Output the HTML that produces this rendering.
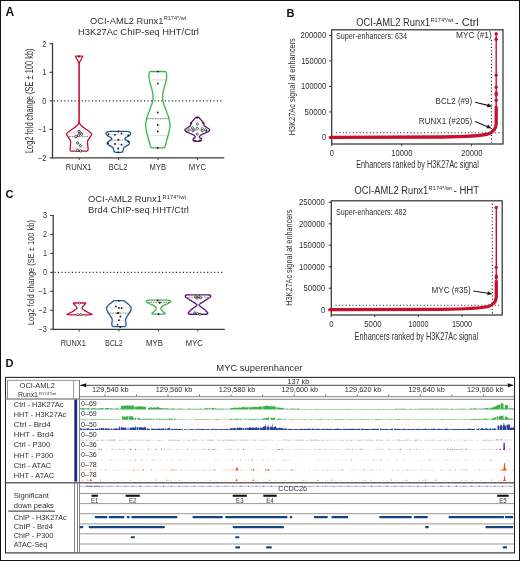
<!DOCTYPE html>
<html><head><meta charset="utf-8"><style>
html,body{margin:0;padding:0;background:#fff;}
svg{display:block;font-family:"Liberation Sans", sans-serif;will-change:transform;}
</style></head><body>
<svg width="520" height="561" viewBox="0 0 520 561">
<rect width="520" height="561" fill="#fff"/>
<rect x="0.50" y="0.50" width="519.00" height="560.00" fill="none" stroke="#111" stroke-width="1" />
<text x="5.50" y="16.30" font-size="12.0" font-weight="bold" fill="#111" >A</text>
<text x="286.60" y="16.90" font-size="11" font-weight="bold" fill="#111" >B</text>
<text x="5.60" y="198.20" font-size="11" font-weight="bold" fill="#111" >C</text>
<text x="5.60" y="367.00" font-size="11" font-weight="bold" fill="#111" >D</text>
<text x="90.10" y="23.50" font-size="9.7" fill="#303030" textLength="73.30" lengthAdjust="spacingAndGlyphs" >OCI-AML2 Runx1</text>
<text x="163.80" y="20.00" font-size="4.6" fill="#303030" textLength="22.40" lengthAdjust="spacingAndGlyphs" >R174*/wt</text>
<text x="78.00" y="34.90" font-size="9.7" fill="#303030" textLength="120.80" lengthAdjust="spacingAndGlyphs" >H3K27Ac ChIP-seq HHT/Ctrl</text>
<line x1="52.50" y1="42.90" x2="52.50" y2="158.50" stroke="#3a3a3a" stroke-width="1.3" />
<line x1="52.50" y1="157.90" x2="224.30" y2="157.90" stroke="#3a3a3a" stroke-width="1.3" />
<line x1="49.50" y1="43.75" x2="52.50" y2="43.75" stroke="#3a3a3a" stroke-width="1.1" />
<text x="46.20" y="46.65" font-size="8.4" text-anchor="end" fill="#303030" textLength="4.00" lengthAdjust="spacingAndGlyphs" >2</text>
<line x1="49.50" y1="72.30" x2="52.50" y2="72.30" stroke="#3a3a3a" stroke-width="1.1" />
<text x="46.20" y="75.20" font-size="8.4" text-anchor="end" fill="#303030" textLength="4.00" lengthAdjust="spacingAndGlyphs" >1</text>
<line x1="49.50" y1="100.85" x2="52.50" y2="100.85" stroke="#3a3a3a" stroke-width="1.1" />
<text x="46.20" y="103.75" font-size="8.4" text-anchor="end" fill="#303030" textLength="4.00" lengthAdjust="spacingAndGlyphs" >0</text>
<line x1="49.50" y1="129.40" x2="52.50" y2="129.40" stroke="#3a3a3a" stroke-width="1.1" />
<text x="46.20" y="132.30" font-size="8.4" text-anchor="end" fill="#303030" textLength="8.30" lengthAdjust="spacingAndGlyphs" >−1</text>
<line x1="49.50" y1="157.95" x2="52.50" y2="157.95" stroke="#3a3a3a" stroke-width="1.1" />
<text x="46.20" y="160.85" font-size="8.4" text-anchor="end" fill="#303030" textLength="8.30" lengthAdjust="spacingAndGlyphs" >−2</text>
<line x1="79.20" y1="157.90" x2="79.20" y2="160.10" stroke="#3a3a3a" stroke-width="1.0" />
<line x1="118.60" y1="157.90" x2="118.60" y2="160.10" stroke="#3a3a3a" stroke-width="1.0" />
<line x1="158.00" y1="157.90" x2="158.00" y2="160.10" stroke="#3a3a3a" stroke-width="1.0" />
<line x1="197.40" y1="157.90" x2="197.40" y2="160.10" stroke="#3a3a3a" stroke-width="1.0" />
<text x="65.80" y="169.90" font-size="8.3" fill="#303030" textLength="25.80" lengthAdjust="spacingAndGlyphs" >RUNX1</text>
<text x="108.80" y="169.90" font-size="8.3" fill="#303030" textLength="18.50" lengthAdjust="spacingAndGlyphs" >BCL2</text>
<text x="149.60" y="169.90" font-size="8.3" fill="#303030" textLength="16.50" lengthAdjust="spacingAndGlyphs" >MYB</text>
<text x="188.80" y="169.90" font-size="8.3" fill="#303030" textLength="17.30" lengthAdjust="spacingAndGlyphs" >MYC</text>
<text transform="translate(32.70,100.80) rotate(-90)" x="0" y="0" font-size="10.2" text-anchor="middle" textLength="104.60" lengthAdjust="spacingAndGlyphs" fill="#303030">Log2 fold change (SE ± 100 kb)</text>
<line x1="53.80" y1="100.90" x2="223.30" y2="100.90" stroke="#222" stroke-width="1.1" stroke-dasharray="1.1 2.37"/>
<path d="M79.10,56.20 L82.70,56.20 C82.52,56.58 82.05,57.62 81.60,58.50 C81.15,59.38 80.38,60.67 80.00,61.50 C79.62,62.33 79.42,62.08 79.30,63.50 C79.17,64.92 79.26,62.25 79.25,70.00 C79.24,77.75 79.24,101.42 79.25,110.00 C79.26,118.58 79.12,119.08 79.30,121.50 C79.47,123.92 79.58,123.50 80.30,124.50 C81.02,125.50 82.22,126.42 83.60,127.50 C84.98,128.58 87.25,129.92 88.60,131.00 C89.95,132.08 91.48,132.95 91.70,134.00 C91.92,135.05 90.57,136.17 89.90,137.30 C89.23,138.43 88.07,139.52 87.70,140.80 C87.33,142.08 87.63,143.67 87.70,145.00 C87.77,146.33 88.08,147.87 88.10,148.80 C88.12,149.73 88.05,150.22 87.80,150.60 C87.55,150.98 86.80,151.02 86.60,151.10 L79.10,151.10 L71.60,151.10 C71.40,151.02 70.65,150.98 70.40,150.60 C70.15,150.22 70.08,149.73 70.10,148.80 C70.12,147.87 70.43,146.33 70.50,145.00 C70.57,143.67 70.87,142.08 70.50,140.80 C70.13,139.52 68.97,138.43 68.30,137.30 C67.63,136.17 66.28,135.05 66.50,134.00 C66.72,132.95 68.25,132.08 69.60,131.00 C70.95,129.92 73.22,128.58 74.60,127.50 C75.98,126.42 77.18,125.50 77.90,124.50 C78.62,123.50 78.72,123.92 78.90,121.50 C79.07,119.08 78.94,118.58 78.95,110.00 C78.96,101.42 78.96,77.75 78.95,70.00 C78.94,62.25 79.02,64.92 78.90,63.50 C78.77,62.08 78.58,62.33 78.20,61.50 C77.82,60.67 77.05,59.38 76.60,58.50 C76.15,57.62 75.68,56.58 75.50,56.20 Z" fill="none" stroke="#c8102e" stroke-width="1.3" stroke-linejoin="round"/>
<line x1="68.10" y1="132.70" x2="90.10" y2="132.70" stroke="#bbb" stroke-width="0.8" stroke-dasharray="1.5 1"/>
<line x1="69.10" y1="136.60" x2="89.10" y2="136.60" stroke="#555" stroke-width="0.8" stroke-dasharray="1.5 1"/>
<line x1="70.80" y1="147.90" x2="87.40" y2="147.90" stroke="#bbb" stroke-width="0.8" stroke-dasharray="1.5 1"/>
<circle cx="79.00" cy="131.40" r="1.15" fill="#fff" stroke="#222" stroke-width="0.8"/>
<circle cx="80.30" cy="133.00" r="1.15" fill="#fff" stroke="#222" stroke-width="0.8"/>
<circle cx="81.60" cy="134.20" r="1.15" fill="#fff" stroke="#222" stroke-width="0.8"/>
<circle cx="78.40" cy="135.30" r="1.15" fill="#fff" stroke="#222" stroke-width="0.8"/>
<circle cx="75.80" cy="136.60" r="1.15" fill="#fff" stroke="#222" stroke-width="0.8"/>
<circle cx="77.60" cy="143.00" r="1.15" fill="#fff" stroke="#222" stroke-width="0.8"/>
<circle cx="80.50" cy="145.60" r="1.15" fill="#fff" stroke="#222" stroke-width="0.8"/>
<circle cx="77.60" cy="150.30" r="1.15" fill="#fff" stroke="#222" stroke-width="0.8"/>
<circle cx="80.50" cy="150.90" r="1.15" fill="#fff" stroke="#222" stroke-width="0.8"/>
<circle cx="79.00" cy="56.40" r="1.0" fill="#222" stroke="none" stroke-width="1"/>
<path d="M118.40,131.30 L126.40,131.30 C126.77,131.35 127.93,131.38 128.60,131.60 C129.27,131.82 130.03,132.22 130.40,132.60 C130.77,132.98 130.97,133.40 130.80,133.90 C130.63,134.40 130.13,135.05 129.40,135.60 C128.67,136.15 127.13,136.70 126.40,137.20 C125.67,137.70 125.00,138.08 125.00,138.60 C125.00,139.12 125.75,139.73 126.40,140.30 C127.05,140.87 128.37,141.48 128.90,142.00 C129.43,142.52 129.72,142.90 129.60,143.40 C129.48,143.90 128.93,144.45 128.20,145.00 C127.47,145.55 125.97,146.18 125.20,146.70 C124.43,147.22 123.97,147.47 123.60,148.10 C123.23,148.73 123.17,149.88 123.00,150.50 C122.83,151.12 122.87,151.50 122.60,151.80 C122.33,152.10 121.60,152.22 121.40,152.30 L118.40,152.30 L115.40,152.30 C115.20,152.22 114.47,152.10 114.20,151.80 C113.93,151.50 113.97,151.12 113.80,150.50 C113.63,149.88 113.57,148.73 113.20,148.10 C112.83,147.47 112.37,147.22 111.60,146.70 C110.83,146.18 109.33,145.55 108.60,145.00 C107.87,144.45 107.32,143.90 107.20,143.40 C107.08,142.90 107.37,142.52 107.90,142.00 C108.43,141.48 109.75,140.87 110.40,140.30 C111.05,139.73 111.80,139.12 111.80,138.60 C111.80,138.08 111.13,137.70 110.40,137.20 C109.67,136.70 108.13,136.15 107.40,135.60 C106.67,135.05 106.17,134.40 106.00,133.90 C105.83,133.40 106.03,132.98 106.40,132.60 C106.77,132.22 107.53,131.82 108.20,131.60 C108.87,131.38 110.03,131.35 110.40,131.30 Z" fill="none" stroke="#1c5a9c" stroke-width="1.3" stroke-linejoin="round"/>
<line x1="107.40" y1="134.50" x2="129.40" y2="134.50" stroke="#bbb" stroke-width="0.8" stroke-dasharray="1.5 1"/>
<line x1="111.40" y1="140.00" x2="125.40" y2="140.00" stroke="#555" stroke-width="0.8" stroke-dasharray="1.5 1"/>
<line x1="108.40" y1="144.30" x2="128.40" y2="144.30" stroke="#bbb" stroke-width="0.8" stroke-dasharray="1.5 1"/>
<circle cx="118.30" cy="131.50" r="0.9" fill="#111" stroke="none" stroke-width="1"/>
<circle cx="121.50" cy="133.30" r="0.9" fill="#111" stroke="none" stroke-width="1"/>
<circle cx="108.50" cy="134.10" r="0.9" fill="#111" stroke="none" stroke-width="1"/>
<circle cx="115.00" cy="134.80" r="0.9" fill="#111" stroke="none" stroke-width="1"/>
<circle cx="128.30" cy="135.50" r="0.9" fill="#111" stroke="none" stroke-width="1"/>
<circle cx="128.50" cy="141.50" r="0.9" fill="#111" stroke="none" stroke-width="1"/>
<circle cx="108.00" cy="143.40" r="0.9" fill="#111" stroke="none" stroke-width="1"/>
<circle cx="115.00" cy="143.90" r="0.9" fill="#111" stroke="none" stroke-width="1"/>
<circle cx="121.50" cy="144.70" r="0.9" fill="#111" stroke="none" stroke-width="1"/>
<circle cx="118.30" cy="148.50" r="0.9" fill="#111" stroke="none" stroke-width="1"/>
<circle cx="118.30" cy="152.30" r="0.9" fill="#111" stroke="none" stroke-width="1"/>
<path d="M118.3,138.4 L119.6,140.4 L117.0,140.4 Z" fill="#111" stroke="none" stroke-width="1" />
<path d="M157.80,71.50 L164.30,71.50 C164.55,71.53 165.45,71.45 165.80,71.70 C166.15,71.95 166.25,72.15 166.40,73.00 C166.55,73.85 166.80,75.30 166.70,76.80 C166.60,78.30 166.23,80.13 165.80,82.00 C165.37,83.87 164.58,86.17 164.10,88.00 C163.62,89.83 163.15,91.30 162.90,93.00 C162.65,94.70 162.52,96.53 162.60,98.20 C162.68,99.87 163.03,101.53 163.40,103.00 C163.77,104.47 164.28,105.58 164.80,107.00 C165.32,108.42 165.83,109.67 166.50,111.50 C167.17,113.33 168.22,115.73 168.80,118.00 C169.38,120.27 169.97,122.77 170.00,125.10 C170.03,127.43 169.53,129.52 169.00,132.00 C168.47,134.48 167.45,137.58 166.80,140.00 C166.15,142.42 165.60,145.20 165.10,146.50 C164.60,147.80 164.02,147.58 163.80,147.80 L157.80,147.80 L151.80,147.80 C151.58,147.58 151.00,147.80 150.50,146.50 C150.00,145.20 149.45,142.42 148.80,140.00 C148.15,137.58 147.13,134.48 146.60,132.00 C146.07,129.52 145.57,127.43 145.60,125.10 C145.63,122.77 146.22,120.27 146.80,118.00 C147.38,115.73 148.43,113.33 149.10,111.50 C149.77,109.67 150.28,108.42 150.80,107.00 C151.32,105.58 151.83,104.47 152.20,103.00 C152.57,101.53 152.92,99.87 153.00,98.20 C153.08,96.53 152.95,94.70 152.70,93.00 C152.45,91.30 151.98,89.83 151.50,88.00 C151.02,86.17 150.23,83.87 149.80,82.00 C149.37,80.13 149.00,78.30 148.90,76.80 C148.80,75.30 149.05,73.85 149.20,73.00 C149.35,72.15 149.45,71.95 149.80,71.70 C150.15,71.45 151.05,71.53 151.30,71.50 Z" fill="none" stroke="#3cb44b" stroke-width="1.3" stroke-linejoin="round"/>
<line x1="149.30" y1="79.80" x2="166.30" y2="79.80" stroke="#bbb" stroke-width="0.8" stroke-dasharray="1.5 1"/>
<line x1="147.30" y1="118.70" x2="168.30" y2="118.70" stroke="#444" stroke-width="0.8" stroke-dasharray="1.5 1"/>
<line x1="147.30" y1="135.40" x2="168.30" y2="135.40" stroke="#bbb" stroke-width="0.8" stroke-dasharray="1.5 1"/>
<circle cx="157.80" cy="71.60" r="0.9" fill="#111" stroke="none" stroke-width="1"/>
<circle cx="157.80" cy="112.50" r="0.9" fill="#111" stroke="none" stroke-width="1"/>
<circle cx="157.80" cy="125.00" r="0.9" fill="#111" stroke="none" stroke-width="1"/>
<circle cx="157.80" cy="131.50" r="0.9" fill="#111" stroke="none" stroke-width="1"/>
<circle cx="157.80" cy="148.00" r="0.9" fill="#111" stroke="none" stroke-width="1"/>
<path d="M157.8,82.3 L159.0,84.2 L156.6,84.2 Z" fill="#111" stroke="none" stroke-width="1" />
<path d="M197.30,117.10 L197.80,117.10 C197.97,117.18 198.50,117.42 198.80,117.60 C199.10,117.78 199.18,117.77 199.60,118.20 C200.02,118.63 200.75,119.57 201.30,120.20 C201.85,120.83 202.48,121.52 202.90,122.00 C203.32,122.48 203.62,122.68 203.80,123.10 C203.98,123.52 203.93,124.05 204.00,124.50 C204.07,124.95 203.73,125.30 204.20,125.80 C204.67,126.30 205.95,126.93 206.80,127.50 C207.65,128.07 208.81,128.80 209.30,129.20 C209.79,129.60 209.80,129.60 209.75,129.90 C209.70,130.20 209.39,130.62 209.00,131.00 C208.61,131.38 208.13,131.82 207.40,132.20 C206.67,132.58 205.47,132.95 204.60,133.30 C203.73,133.65 202.92,133.92 202.20,134.30 C201.48,134.68 200.78,135.17 200.30,135.60 C199.82,136.03 199.33,136.52 199.30,136.90 C199.27,137.28 199.78,137.60 200.10,137.90 C200.42,138.20 200.98,138.35 201.20,138.70 C201.42,139.05 201.47,139.63 201.40,140.00 C201.33,140.37 201.15,140.70 200.80,140.90 C200.45,141.10 199.55,141.15 199.30,141.20 L197.30,141.20 L195.30,141.20 C195.05,141.15 194.15,141.10 193.80,140.90 C193.45,140.70 193.27,140.37 193.20,140.00 C193.13,139.63 193.18,139.05 193.40,138.70 C193.62,138.35 194.18,138.20 194.50,137.90 C194.82,137.60 195.33,137.28 195.30,136.90 C195.27,136.52 194.78,136.03 194.30,135.60 C193.82,135.17 193.12,134.68 192.40,134.30 C191.68,133.92 190.87,133.65 190.00,133.30 C189.13,132.95 187.93,132.58 187.20,132.20 C186.47,131.82 185.99,131.38 185.60,131.00 C185.21,130.62 184.90,130.20 184.85,129.90 C184.80,129.60 184.81,129.60 185.30,129.20 C185.79,128.80 186.95,128.07 187.80,127.50 C188.65,126.93 189.93,126.30 190.40,125.80 C190.87,125.30 190.53,124.95 190.60,124.50 C190.67,124.05 190.62,123.52 190.80,123.10 C190.98,122.68 191.28,122.48 191.70,122.00 C192.12,121.52 192.75,120.83 193.30,120.20 C193.85,119.57 194.58,118.63 195.00,118.20 C195.42,117.77 195.50,117.78 195.80,117.60 C196.10,117.42 196.63,117.18 196.80,117.10 Z" fill="none" stroke="#5e1f7a" stroke-width="1.4" stroke-linejoin="round"/>
<line x1="191.30" y1="125.80" x2="203.30" y2="125.80" stroke="#bbb" stroke-width="0.7" stroke-dasharray="1.2 0.8"/>
<line x1="186.30" y1="130.10" x2="208.30" y2="130.10" stroke="#999" stroke-width="0.7" stroke-dasharray="1.2 0.8"/>
<circle cx="197.30" cy="124.00" r="1.1" fill="#fff" stroke="#333" stroke-width="0.75"/>
<circle cx="197.30" cy="128.40" r="1.1" fill="#fff" stroke="#333" stroke-width="0.75"/>
<circle cx="197.30" cy="134.00" r="1.1" fill="#fff" stroke="#333" stroke-width="0.75"/>
<circle cx="192.40" cy="127.90" r="1.1" fill="#fff" stroke="#333" stroke-width="0.75"/>
<circle cx="192.80" cy="130.60" r="1.1" fill="#fff" stroke="#333" stroke-width="0.75"/>
<circle cx="202.20" cy="128.60" r="1.1" fill="#fff" stroke="#333" stroke-width="0.75"/>
<circle cx="202.20" cy="130.80" r="1.1" fill="#fff" stroke="#333" stroke-width="0.75"/>
<circle cx="194.00" cy="129.80" r="1.1" fill="#fff" stroke="#333" stroke-width="0.75"/>
<circle cx="189.00" cy="129.80" r="1.1" fill="#fff" stroke="#333" stroke-width="0.75"/>
<circle cx="205.50" cy="129.80" r="1.1" fill="#fff" stroke="#333" stroke-width="0.75"/>
<circle cx="197.20" cy="117.70" r="0.95" fill="#222" stroke="none" stroke-width="1"/>
<circle cx="191.30" cy="123.20" r="0.95" fill="#222" stroke="none" stroke-width="1"/>
<circle cx="203.20" cy="123.00" r="0.95" fill="#222" stroke="none" stroke-width="1"/>
<circle cx="186.50" cy="131.60" r="0.95" fill="#222" stroke="none" stroke-width="1"/>
<circle cx="206.30" cy="130.80" r="0.95" fill="#222" stroke="none" stroke-width="1"/>
<circle cx="194.80" cy="140.60" r="0.95" fill="#222" stroke="none" stroke-width="1"/>
<circle cx="199.80" cy="140.60" r="0.95" fill="#222" stroke="none" stroke-width="1"/>
<text x="88.10" y="201.70" font-size="9.7" fill="#303030" textLength="73.80" lengthAdjust="spacingAndGlyphs" >OCI-AML2 Runx1</text>
<text x="162.50" y="198.70" font-size="4.6" fill="#303030" textLength="23.60" lengthAdjust="spacingAndGlyphs" >R174*/wt</text>
<text x="88.10" y="212.95" font-size="9.7" fill="#303030" textLength="100.80" lengthAdjust="spacingAndGlyphs" >Brd4 ChIP-seq HHT/Ctrl</text>
<line x1="53.20" y1="214.90" x2="53.20" y2="329.90" stroke="#3a3a3a" stroke-width="1.3" />
<line x1="53.20" y1="329.30" x2="224.80" y2="329.30" stroke="#3a3a3a" stroke-width="1.3" />
<line x1="50.20" y1="215.50" x2="53.20" y2="215.50" stroke="#3a3a3a" stroke-width="1.1" />
<text x="46.90" y="218.40" font-size="8.4" text-anchor="end" fill="#303030" textLength="4.00" lengthAdjust="spacingAndGlyphs" >3</text>
<line x1="50.20" y1="234.45" x2="53.20" y2="234.45" stroke="#3a3a3a" stroke-width="1.1" />
<text x="46.90" y="237.35" font-size="8.4" text-anchor="end" fill="#303030" textLength="4.00" lengthAdjust="spacingAndGlyphs" >2</text>
<line x1="50.20" y1="253.40" x2="53.20" y2="253.40" stroke="#3a3a3a" stroke-width="1.1" />
<text x="46.90" y="256.30" font-size="8.4" text-anchor="end" fill="#303030" textLength="4.00" lengthAdjust="spacingAndGlyphs" >1</text>
<line x1="50.20" y1="272.35" x2="53.20" y2="272.35" stroke="#3a3a3a" stroke-width="1.1" />
<text x="46.90" y="275.25" font-size="8.4" text-anchor="end" fill="#303030" textLength="4.00" lengthAdjust="spacingAndGlyphs" >0</text>
<line x1="50.20" y1="291.30" x2="53.20" y2="291.30" stroke="#3a3a3a" stroke-width="1.1" />
<text x="46.90" y="294.20" font-size="8.4" text-anchor="end" fill="#303030" textLength="8.30" lengthAdjust="spacingAndGlyphs" >−1</text>
<line x1="50.20" y1="310.25" x2="53.20" y2="310.25" stroke="#3a3a3a" stroke-width="1.1" />
<text x="46.90" y="313.15" font-size="8.4" text-anchor="end" fill="#303030" textLength="8.30" lengthAdjust="spacingAndGlyphs" >−2</text>
<line x1="50.20" y1="329.20" x2="53.20" y2="329.20" stroke="#3a3a3a" stroke-width="1.1" />
<text x="46.90" y="332.10" font-size="8.4" text-anchor="end" fill="#303030" textLength="8.30" lengthAdjust="spacingAndGlyphs" >−3</text>
<line x1="79.20" y1="329.30" x2="79.20" y2="331.50" stroke="#3a3a3a" stroke-width="1.0" />
<line x1="118.90" y1="329.30" x2="118.90" y2="331.50" stroke="#3a3a3a" stroke-width="1.0" />
<line x1="158.40" y1="329.30" x2="158.40" y2="331.50" stroke="#3a3a3a" stroke-width="1.0" />
<line x1="197.80" y1="329.30" x2="197.80" y2="331.50" stroke="#3a3a3a" stroke-width="1.0" />
<text x="60.80" y="345.50" font-size="8.6" fill="#303030" textLength="25.00" lengthAdjust="spacingAndGlyphs" >RUNX1</text>
<text x="105.00" y="345.50" font-size="8.6" fill="#303030" textLength="17.70" lengthAdjust="spacingAndGlyphs" >BCL2</text>
<text x="146.10" y="345.50" font-size="8.6" fill="#303030" textLength="16.90" lengthAdjust="spacingAndGlyphs" >MYB</text>
<text x="185.80" y="345.50" font-size="8.6" fill="#303030" textLength="16.90" lengthAdjust="spacingAndGlyphs" >MYC</text>
<text transform="translate(33.80,272.60) rotate(-90)" x="0" y="0" font-size="9.9" text-anchor="middle" textLength="105.00" lengthAdjust="spacingAndGlyphs" fill="#303030">Log2 fold change (SE ± 100 kb)</text>
<line x1="54.50" y1="272.40" x2="223.80" y2="272.40" stroke="#222" stroke-width="1.1" stroke-dasharray="1.1 2.37"/>
<path d="M79.50,303.00 L85.70,303.00 C85.53,303.25 85.18,303.92 84.70,304.50 C84.22,305.08 83.25,305.90 82.80,306.50 C82.35,307.10 81.80,307.52 82.00,308.10 C82.20,308.68 83.00,309.27 84.00,310.00 C85.00,310.73 86.65,311.73 88.00,312.50 C89.35,313.27 92.52,314.22 92.10,314.60 C91.68,314.98 86.60,314.77 85.50,314.80 L79.50,314.80 L73.50,314.80 C72.40,314.77 67.32,314.98 66.90,314.60 C66.48,314.22 69.65,313.27 71.00,312.50 C72.35,311.73 74.00,310.73 75.00,310.00 C76.00,309.27 76.80,308.68 77.00,308.10 C77.20,307.52 76.65,307.10 76.20,306.50 C75.75,305.90 74.78,305.08 74.30,304.50 C73.82,303.92 73.47,303.25 73.30,303.00 Z" fill="none" stroke="#c8102e" stroke-width="1.3" stroke-linejoin="round"/>
<circle cx="79.30" cy="303.00" r="1.1" fill="#fff" stroke="#333" stroke-width="0.7"/>
<circle cx="77.60" cy="314.50" r="1.1" fill="#fff" stroke="#333" stroke-width="0.7"/>
<circle cx="81.00" cy="314.50" r="1.1" fill="#fff" stroke="#333" stroke-width="0.7"/>
<path d="M118.90,300.60 L122.40,300.60 C122.61,300.62 123.23,300.55 123.65,300.70 C124.07,300.85 124.49,301.20 124.90,301.50 C125.31,301.80 125.52,302.05 126.10,302.50 C126.68,302.95 127.75,303.65 128.40,304.20 C129.05,304.75 129.52,305.15 130.00,305.80 C130.48,306.45 131.22,307.23 131.30,308.10 C131.38,308.97 130.87,310.13 130.50,311.00 C130.13,311.87 129.57,312.53 129.10,313.30 C128.63,314.07 128.15,314.88 127.70,315.60 C127.25,316.32 126.75,316.95 126.40,317.60 C126.05,318.25 125.72,318.85 125.60,319.50 C125.48,320.15 125.63,320.83 125.70,321.50 C125.77,322.17 125.97,322.87 126.00,323.50 C126.03,324.13 126.05,324.83 125.90,325.30 C125.75,325.77 125.60,326.07 125.10,326.30 C124.60,326.53 123.27,326.63 122.90,326.70 L118.90,326.70 L114.90,326.70 C114.53,326.63 113.20,326.53 112.70,326.30 C112.20,326.07 112.05,325.77 111.90,325.30 C111.75,324.83 111.77,324.13 111.80,323.50 C111.83,322.87 112.03,322.17 112.10,321.50 C112.17,320.83 112.32,320.15 112.20,319.50 C112.08,318.85 111.75,318.25 111.40,317.60 C111.05,316.95 110.55,316.32 110.10,315.60 C109.65,314.88 109.17,314.07 108.70,313.30 C108.23,312.53 107.67,311.87 107.30,311.00 C106.93,310.13 106.42,308.97 106.50,308.10 C106.58,307.23 107.32,306.45 107.80,305.80 C108.28,305.15 108.75,304.75 109.40,304.20 C110.05,303.65 111.12,302.95 111.70,302.50 C112.28,302.05 112.49,301.80 112.90,301.50 C113.31,301.20 113.73,300.85 114.15,300.70 C114.57,300.55 115.19,300.62 115.40,300.60 Z" fill="none" stroke="#1c5a9c" stroke-width="1.3" stroke-linejoin="round"/>
<line x1="107.90" y1="307.80" x2="129.90" y2="307.80" stroke="#bbb" stroke-width="0.8" stroke-dasharray="1.5 1"/>
<line x1="107.40" y1="313.10" x2="130.40" y2="313.10" stroke="#555" stroke-width="0.8" stroke-dasharray="1.5 1"/>
<line x1="112.40" y1="320.90" x2="125.40" y2="320.90" stroke="#bbb" stroke-width="0.8" stroke-dasharray="1.5 1"/>
<circle cx="118.90" cy="300.80" r="0.9" fill="#111" stroke="none" stroke-width="1"/>
<circle cx="115.90" cy="306.30" r="0.9" fill="#111" stroke="none" stroke-width="1"/>
<circle cx="118.90" cy="307.90" r="0.9" fill="#111" stroke="none" stroke-width="1"/>
<circle cx="121.60" cy="308.10" r="0.9" fill="#111" stroke="none" stroke-width="1"/>
<circle cx="117.50" cy="313.20" r="0.9" fill="#111" stroke="none" stroke-width="1"/>
<circle cx="118.60" cy="312.80" r="0.9" fill="#111" stroke="none" stroke-width="1"/>
<circle cx="120.30" cy="316.50" r="0.9" fill="#111" stroke="none" stroke-width="1"/>
<circle cx="118.90" cy="320.20" r="0.9" fill="#111" stroke="none" stroke-width="1"/>
<circle cx="120.30" cy="327.00" r="0.9" fill="#111" stroke="none" stroke-width="1"/>
<path d="M117.5,323.6 L118.7,325.5 L116.3,325.5 Z" fill="#111" stroke="none" stroke-width="1" />
<path d="M158.50,300.20 L166.50,300.20 C167.00,300.22 168.82,300.20 169.50,300.30 C170.18,300.40 170.40,300.55 170.60,300.80 C170.80,301.05 170.88,301.47 170.70,301.80 C170.52,302.13 170.15,302.43 169.50,302.80 C168.85,303.17 167.70,303.62 166.80,304.00 C165.90,304.38 164.93,304.68 164.10,305.10 C163.27,305.52 162.35,306.00 161.80,306.50 C161.25,307.00 160.92,307.60 160.80,308.10 C160.68,308.60 160.83,309.02 161.10,309.50 C161.37,309.98 161.93,310.50 162.40,311.00 C162.87,311.50 163.42,312.08 163.90,312.50 C164.38,312.92 165.28,313.25 165.30,313.50 C165.32,313.75 164.63,313.90 164.00,314.00 C163.37,314.10 161.92,314.08 161.50,314.10 L158.50,314.10 L155.50,314.10 C155.08,314.08 153.63,314.10 153.00,314.00 C152.37,313.90 151.68,313.75 151.70,313.50 C151.72,313.25 152.62,312.92 153.10,312.50 C153.58,312.08 154.13,311.50 154.60,311.00 C155.07,310.50 155.63,309.98 155.90,309.50 C156.17,309.02 156.32,308.60 156.20,308.10 C156.08,307.60 155.75,307.00 155.20,306.50 C154.65,306.00 153.73,305.52 152.90,305.10 C152.07,304.68 151.10,304.38 150.20,304.00 C149.30,303.62 148.15,303.17 147.50,302.80 C146.85,302.43 146.48,302.13 146.30,301.80 C146.12,301.47 146.20,301.05 146.40,300.80 C146.60,300.55 146.82,300.40 147.50,300.30 C148.18,300.20 150.00,300.22 150.50,300.20 Z" fill="none" stroke="#3cb44b" stroke-width="1.3" stroke-linejoin="round"/>
<line x1="148.00" y1="302.40" x2="169.00" y2="302.40" stroke="#555" stroke-width="0.8" stroke-dasharray="1.5 1"/>
<circle cx="157.60" cy="300.50" r="0.95" fill="#111" stroke="none" stroke-width="1"/>
<circle cx="158.50" cy="314.20" r="0.95" fill="#111" stroke="none" stroke-width="1"/>
<circle cx="159.80" cy="302.80" r="0.95" fill="#111" stroke="none" stroke-width="1"/>
<path d="M198.00,294.90 L206.00,294.90 C206.58,294.92 208.73,294.88 209.50,295.00 C210.27,295.12 210.42,295.30 210.60,295.60 C210.78,295.90 210.78,296.43 210.60,296.80 C210.42,297.17 210.02,297.43 209.50,297.80 C208.98,298.17 208.18,298.57 207.50,299.00 C206.82,299.43 206.18,299.90 205.40,300.40 C204.62,300.90 203.63,301.48 202.80,302.00 C201.97,302.52 201.03,303.02 200.40,303.50 C199.77,303.98 199.03,304.43 199.00,304.90 C198.97,305.37 199.60,305.78 200.20,306.30 C200.80,306.82 201.87,307.47 202.60,308.00 C203.33,308.53 204.07,309.03 204.60,309.50 C205.13,309.97 205.37,310.33 205.80,310.80 C206.23,311.27 206.87,311.85 207.20,312.30 C207.53,312.75 207.92,313.18 207.80,313.50 C207.68,313.82 207.30,314.07 206.50,314.20 C205.70,314.33 203.58,314.28 203.00,314.30 L198.00,314.30 L193.00,314.30 C192.42,314.28 190.30,314.33 189.50,314.20 C188.70,314.07 188.32,313.82 188.20,313.50 C188.08,313.18 188.47,312.75 188.80,312.30 C189.13,311.85 189.77,311.27 190.20,310.80 C190.63,310.33 190.87,309.97 191.40,309.50 C191.93,309.03 192.67,308.53 193.40,308.00 C194.13,307.47 195.20,306.82 195.80,306.30 C196.40,305.78 197.03,305.37 197.00,304.90 C196.97,304.43 196.23,303.98 195.60,303.50 C194.97,303.02 194.03,302.52 193.20,302.00 C192.37,301.48 191.38,300.90 190.60,300.40 C189.82,299.90 189.18,299.43 188.50,299.00 C187.82,298.57 187.02,298.17 186.50,297.80 C185.98,297.43 185.58,297.17 185.40,296.80 C185.22,296.43 185.22,295.90 185.40,295.60 C185.58,295.30 185.73,295.12 186.50,295.00 C187.27,294.88 189.42,294.92 190.00,294.90 Z" fill="none" stroke="#5e1f7a" stroke-width="1.4" stroke-linejoin="round"/>
<line x1="186.50" y1="297.30" x2="209.50" y2="297.30" stroke="#666" stroke-width="0.8" stroke-dasharray="1.5 1"/>
<circle cx="197.80" cy="295.40" r="1.05" fill="#fff" stroke="#222" stroke-width="0.75"/>
<circle cx="195.30" cy="297.00" r="1.05" fill="#fff" stroke="#222" stroke-width="0.75"/>
<circle cx="199.00" cy="296.60" r="1.05" fill="#fff" stroke="#222" stroke-width="0.75"/>
<circle cx="197.00" cy="298.20" r="1.05" fill="#fff" stroke="#222" stroke-width="0.75"/>
<circle cx="200.50" cy="297.80" r="1.05" fill="#fff" stroke="#222" stroke-width="0.75"/>
<circle cx="194.80" cy="312.80" r="1.05" fill="#fff" stroke="#222" stroke-width="0.75"/>
<circle cx="197.50" cy="313.60" r="1.05" fill="#fff" stroke="#222" stroke-width="0.75"/>
<circle cx="200.00" cy="314.20" r="1.05" fill="#fff" stroke="#222" stroke-width="0.75"/>
<rect x="331.70" y="29.80" width="171.30" height="114.20" fill="none" stroke="#3c3c3c" stroke-width="1.3" />
<line x1="329.10" y1="35.40" x2="331.70" y2="35.40" stroke="#3a3a3a" stroke-width="1.1" />
<text x="326.20" y="38.25" font-size="9.0" text-anchor="end" fill="#303030" textLength="25.70" lengthAdjust="spacingAndGlyphs" >200000</text>
<line x1="329.10" y1="60.90" x2="331.70" y2="60.90" stroke="#3a3a3a" stroke-width="1.1" />
<text x="326.20" y="63.75" font-size="9.0" text-anchor="end" fill="#303030" textLength="25.00" lengthAdjust="spacingAndGlyphs" >150000</text>
<line x1="329.10" y1="86.40" x2="331.70" y2="86.40" stroke="#3a3a3a" stroke-width="1.1" />
<text x="326.20" y="89.25" font-size="9.0" text-anchor="end" fill="#303030" textLength="25.20" lengthAdjust="spacingAndGlyphs" >100000</text>
<line x1="329.10" y1="111.90" x2="331.70" y2="111.90" stroke="#3a3a3a" stroke-width="1.1" />
<text x="326.20" y="114.75" font-size="9.0" text-anchor="end" fill="#303030" textLength="21.60" lengthAdjust="spacingAndGlyphs" >50000</text>
<line x1="329.10" y1="137.40" x2="331.70" y2="137.40" stroke="#3a3a3a" stroke-width="1.1" />
<text x="326.30" y="140.25" font-size="9.0" text-anchor="end" fill="#303030" textLength="4.30" lengthAdjust="spacingAndGlyphs" >0</text>
<line x1="331.80" y1="144.00" x2="331.80" y2="146.20" stroke="#3a3a3a" stroke-width="1.0" />
<text x="329.80" y="155.90" font-size="8.2" fill="#303030" textLength="4.20" lengthAdjust="spacingAndGlyphs" >0</text>
<line x1="401.70" y1="144.00" x2="401.70" y2="146.20" stroke="#3a3a3a" stroke-width="1.0" />
<text x="391.30" y="155.90" font-size="8.2" fill="#303030" textLength="21.20" lengthAdjust="spacingAndGlyphs" >10000</text>
<line x1="471.60" y1="144.00" x2="471.60" y2="146.20" stroke="#3a3a3a" stroke-width="1.0" />
<text x="461.30" y="155.90" font-size="8.2" fill="#303030" textLength="21.20" lengthAdjust="spacingAndGlyphs" >20000</text>
<line x1="335.85" y1="132.80" x2="502.50" y2="132.80" stroke="#222" stroke-width="1.1" stroke-dasharray="1.1 2.29"/>
<line x1="491.50" y1="40.00" x2="491.50" y2="144.00" stroke="#222" stroke-width="1.1" stroke-dasharray="1.1 2.29"/>
<path d="M330.20,137.40 L441.70,137.00 C466.70,136.70 481.70,135.90 487.50,134.20 C493.10,132.40 495.90,129.00 496.20,124.00 L496.20,107.20" fill="none" stroke="#c8102e" stroke-width="3.3" stroke-linecap="round" stroke-linejoin="round"/>
<line x1="496.20" y1="107.20" x2="496.20" y2="33.80" stroke="#c8102e" stroke-width="1.4" />
<circle cx="496.20" cy="33.80" r="1.7" fill="#c8102e" stroke="none" stroke-width="1"/>
<circle cx="496.20" cy="39.30" r="1.7" fill="#c8102e" stroke="none" stroke-width="1"/>
<circle cx="496.20" cy="75.30" r="1.7" fill="#c8102e" stroke="none" stroke-width="1"/>
<circle cx="496.20" cy="87.20" r="1.7" fill="#c8102e" stroke="none" stroke-width="1"/>
<circle cx="496.20" cy="93.20" r="1.7" fill="#c8102e" stroke="none" stroke-width="1"/>
<circle cx="496.20" cy="95.10" r="1.7" fill="#c8102e" stroke="none" stroke-width="1"/>
<circle cx="496.20" cy="100.20" r="1.7" fill="#c8102e" stroke="none" stroke-width="1"/>
<text x="356.30" y="25.50" font-size="10" fill="#303030" textLength="73.70" lengthAdjust="spacingAndGlyphs" >OCI-AML2 Runx1</text>
<text x="430.40" y="21.70" font-size="4.6" fill="#303030" textLength="23.20" lengthAdjust="spacingAndGlyphs" >R174*/wt</text>
<text x="455.00" y="25.50" font-size="10" fill="#303030" textLength="23.80" lengthAdjust="spacingAndGlyphs" >- Ctrl</text>
<text x="336.10" y="39.00" font-size="8.9" fill="#303030" textLength="70.90" lengthAdjust="spacingAndGlyphs" >Super-enhancers: 634</text>
<text x="456.00" y="38.40" font-size="8.6" fill="#303030" textLength="35.80" lengthAdjust="spacingAndGlyphs" >MYC (#1)</text>
<text x="435.60" y="103.90" font-size="9.0" fill="#303030" textLength="36.60" lengthAdjust="spacingAndGlyphs" >BCL2 (#9)</text>
<text x="418.70" y="123.60" font-size="9.0" fill="#303030" textLength="53.50" lengthAdjust="spacingAndGlyphs" >RUNX1 (#205)</text>
<text transform="translate(294.90,86.80) rotate(-90)" x="0" y="0" font-size="9.2" text-anchor="middle" textLength="96.80" lengthAdjust="spacingAndGlyphs" fill="#303030">H3K27Ac signal at enhancers</text>
<text x="356.20" y="168.20" font-size="10.0" fill="#303030" textLength="122.60" lengthAdjust="spacingAndGlyphs" >Enhancers ranked by H3K27Ac signal</text>
<line x1="475.10" y1="102.30" x2="487.92" y2="105.36" stroke="#1a1a1a" stroke-width="1.1" />
<path d="M492.30,106.40 L486.97,107.19 L487.90,103.30 Z" fill="#1a1a1a" stroke="none" stroke-width="1" />
<line x1="475.10" y1="121.40" x2="487.65" y2="126.66" stroke="#1a1a1a" stroke-width="1.1" />
<path d="M491.80,128.40 L486.42,128.31 L487.96,124.62 Z" fill="#1a1a1a" stroke="none" stroke-width="1" />
<rect x="331.30" y="200.80" width="170.90" height="114.20" fill="none" stroke="#3c3c3c" stroke-width="1.3" />
<line x1="328.70" y1="202.30" x2="331.30" y2="202.30" stroke="#3a3a3a" stroke-width="1.1" />
<text x="324.90" y="205.15" font-size="9.0" text-anchor="end" fill="#303030" textLength="26.00" lengthAdjust="spacingAndGlyphs" >250000</text>
<line x1="328.70" y1="223.80" x2="331.30" y2="223.80" stroke="#3a3a3a" stroke-width="1.1" />
<text x="324.90" y="226.65" font-size="9.0" text-anchor="end" fill="#303030" textLength="26.00" lengthAdjust="spacingAndGlyphs" >200000</text>
<line x1="328.70" y1="245.20" x2="331.30" y2="245.20" stroke="#3a3a3a" stroke-width="1.1" />
<text x="324.90" y="248.05" font-size="9.0" text-anchor="end" fill="#303030" textLength="26.00" lengthAdjust="spacingAndGlyphs" >150000</text>
<line x1="328.70" y1="266.70" x2="331.30" y2="266.70" stroke="#3a3a3a" stroke-width="1.1" />
<text x="324.90" y="269.55" font-size="9.0" text-anchor="end" fill="#303030" textLength="26.00" lengthAdjust="spacingAndGlyphs" >100000</text>
<line x1="328.70" y1="288.20" x2="331.30" y2="288.20" stroke="#3a3a3a" stroke-width="1.1" />
<text x="325.10" y="291.05" font-size="9.0" text-anchor="end" fill="#303030" textLength="21.60" lengthAdjust="spacingAndGlyphs" >50000</text>
<line x1="328.70" y1="309.70" x2="331.30" y2="309.70" stroke="#3a3a3a" stroke-width="1.1" />
<text x="325.30" y="312.55" font-size="9.0" text-anchor="end" fill="#303030" textLength="4.30" lengthAdjust="spacingAndGlyphs" >0</text>
<line x1="331.20" y1="315.00" x2="331.20" y2="317.20" stroke="#3a3a3a" stroke-width="1.0" />
<text x="329.20" y="326.70" font-size="8.2" fill="#303030" textLength="4.30" lengthAdjust="spacingAndGlyphs" >0</text>
<line x1="374.80" y1="315.00" x2="374.80" y2="317.20" stroke="#3a3a3a" stroke-width="1.0" />
<text x="364.30" y="326.70" font-size="8.2" fill="#303030" textLength="17.20" lengthAdjust="spacingAndGlyphs" >5000</text>
<line x1="418.40" y1="315.00" x2="418.40" y2="317.20" stroke="#3a3a3a" stroke-width="1.0" />
<text x="408.50" y="326.70" font-size="8.2" fill="#303030" textLength="20.00" lengthAdjust="spacingAndGlyphs" >10000</text>
<line x1="462.00" y1="315.00" x2="462.00" y2="317.20" stroke="#3a3a3a" stroke-width="1.0" />
<text x="452.00" y="326.70" font-size="8.2" fill="#303030" textLength="20.00" lengthAdjust="spacingAndGlyphs" >15000</text>
<line x1="335.45" y1="305.30" x2="501.70" y2="305.30" stroke="#222" stroke-width="1.1" stroke-dasharray="1.1 2.29"/>
<line x1="492.30" y1="203.80" x2="492.30" y2="315.00" stroke="#222" stroke-width="1.1" stroke-dasharray="1.1 2.29"/>
<path d="M329.80,309.70 L441.30,309.30 C466.30,309.00 481.30,308.20 488.30,306.50 C493.20,304.70 496.00,302.00 496.30,297.00 L496.30,281.40" fill="none" stroke="#c8102e" stroke-width="3.3" stroke-linecap="round" stroke-linejoin="round"/>
<line x1="496.30" y1="281.40" x2="496.30" y2="207.50" stroke="#c8102e" stroke-width="1.4" />
<circle cx="496.30" cy="207.50" r="1.7" fill="#c8102e" stroke="none" stroke-width="1"/>
<circle cx="496.30" cy="267.40" r="1.7" fill="#c8102e" stroke="none" stroke-width="1"/>
<circle cx="496.30" cy="276.00" r="1.7" fill="#c8102e" stroke="none" stroke-width="1"/>
<circle cx="496.30" cy="277.60" r="1.7" fill="#c8102e" stroke="none" stroke-width="1"/>
<text x="354.50" y="193.75" font-size="10" fill="#303030" textLength="73.70" lengthAdjust="spacingAndGlyphs" >OCI-AML2 Runx1</text>
<text x="428.60" y="190.00" font-size="4.6" fill="#303030" textLength="23.20" lengthAdjust="spacingAndGlyphs" >R174*/wt</text>
<text x="453.50" y="193.75" font-size="10" fill="#303030" textLength="25.70" lengthAdjust="spacingAndGlyphs" >- HHT</text>
<text x="336.00" y="215.20" font-size="8.9" fill="#303030" textLength="70.50" lengthAdjust="spacingAndGlyphs" >Super-enhancers: 482</text>
<text x="431.50" y="292.70" font-size="9.0" fill="#303030" textLength="39.30" lengthAdjust="spacingAndGlyphs" >MYC (#35)</text>
<text transform="translate(292.40,257.70) rotate(-90)" x="0" y="0" font-size="9.2" text-anchor="middle" textLength="96.30" lengthAdjust="spacingAndGlyphs" fill="#303030">H3K27Ac signal at enhancers</text>
<text x="354.60" y="340.20" font-size="10.2" fill="#303030" textLength="123.50" lengthAdjust="spacingAndGlyphs" >Enhancers ranked by H3K27Ac signal</text>
<line x1="473.20" y1="291.00" x2="488.05" y2="293.23" stroke="#1a1a1a" stroke-width="1.1" />
<path d="M492.50,293.90 L487.26,295.13 L487.85,291.18 Z" fill="#1a1a1a" stroke="none" stroke-width="1" />
<text x="216.30" y="370.50" font-size="8.8" fill="#303030" textLength="86.20" lengthAdjust="spacingAndGlyphs" >MYC superenhancer</text>
<rect x="5.50" y="377.40" width="509.00" height="175.50" fill="none" stroke="#2a2a2a" stroke-width="1.1" />
<rect x="7.50" y="380.30" width="72.00" height="18.70" fill="none" stroke="#888" stroke-width="0.9" />
<line x1="73.60" y1="380.30" x2="73.60" y2="399.00" stroke="#888" stroke-width="0.9" />
<text x="19.60" y="388.20" font-size="8.0" fill="#303030" textLength="35.20" lengthAdjust="spacingAndGlyphs" >OCI-AML2</text>
<text x="17.90" y="396.80" font-size="8.0" fill="#303030" textLength="20.10" lengthAdjust="spacingAndGlyphs" >Runx1</text>
<text x="39.00" y="394.60" font-size="3.9" fill="#303030" textLength="17.20" lengthAdjust="spacingAndGlyphs" >R174*/wt</text>
<line x1="79.50" y1="385.30" x2="513.00" y2="385.30" stroke="#333" stroke-width="0.9" />
<path d="M80.4,385.3 L86.2,383.3 L86.2,387.3 Z" fill="#111" stroke="none" stroke-width="1" />
<path d="M513.6,385.3 L507.8,383.3 L507.8,387.3 Z" fill="#111" stroke="none" stroke-width="1" />
<text x="287.40" y="383.80" font-size="7.0" fill="#303030" textLength="21.90" lengthAdjust="spacingAndGlyphs" >137 kb</text>
<text x="92.00" y="392.30" font-size="6.9" fill="#303030" textLength="36.60" lengthAdjust="spacingAndGlyphs" >129,540 kb</text>
<text x="155.70" y="392.30" font-size="6.9" fill="#303030" textLength="36.60" lengthAdjust="spacingAndGlyphs" >129,560 kb</text>
<text x="218.80" y="392.30" font-size="6.9" fill="#303030" textLength="36.60" lengthAdjust="spacingAndGlyphs" >129,580 kb</text>
<text x="281.50" y="392.30" font-size="6.9" fill="#303030" textLength="36.60" lengthAdjust="spacingAndGlyphs" >129,600 kb</text>
<text x="344.80" y="392.30" font-size="6.9" fill="#303030" textLength="36.60" lengthAdjust="spacingAndGlyphs" >129,620 kb</text>
<text x="408.20" y="392.30" font-size="6.9" fill="#303030" textLength="36.60" lengthAdjust="spacingAndGlyphs" >129,640 kb</text>
<text x="467.00" y="392.30" font-size="6.9" fill="#303030" textLength="36.60" lengthAdjust="spacingAndGlyphs" >129,660 kb</text>
<line x1="104.90" y1="394.40" x2="104.90" y2="396.60" stroke="#555" stroke-width="0.8" />
<line x1="136.44" y1="394.40" x2="136.44" y2="396.60" stroke="#555" stroke-width="0.8" />
<line x1="167.98" y1="394.40" x2="167.98" y2="396.60" stroke="#555" stroke-width="0.8" />
<line x1="199.52" y1="394.40" x2="199.52" y2="396.60" stroke="#555" stroke-width="0.8" />
<line x1="231.06" y1="394.40" x2="231.06" y2="396.60" stroke="#555" stroke-width="0.8" />
<line x1="262.60" y1="394.40" x2="262.60" y2="396.60" stroke="#555" stroke-width="0.8" />
<line x1="294.14" y1="394.40" x2="294.14" y2="396.60" stroke="#555" stroke-width="0.8" />
<line x1="325.68" y1="394.40" x2="325.68" y2="396.60" stroke="#555" stroke-width="0.8" />
<line x1="357.22" y1="394.40" x2="357.22" y2="396.60" stroke="#555" stroke-width="0.8" />
<line x1="388.76" y1="394.40" x2="388.76" y2="396.60" stroke="#555" stroke-width="0.8" />
<line x1="420.30" y1="394.40" x2="420.30" y2="396.60" stroke="#555" stroke-width="0.8" />
<line x1="451.84" y1="394.40" x2="451.84" y2="396.60" stroke="#555" stroke-width="0.8" />
<line x1="483.38" y1="394.40" x2="483.38" y2="396.60" stroke="#555" stroke-width="0.8" />
<line x1="79.50" y1="396.70" x2="514.00" y2="396.70" stroke="#777" stroke-width="0.9" />
<line x1="79.50" y1="399.30" x2="514.00" y2="399.30" stroke="#777" stroke-width="0.9" />
<line x1="79.50" y1="380.30" x2="79.50" y2="553.00" stroke="#777" stroke-width="0.9" />
<line x1="5.50" y1="399.00" x2="79.50" y2="399.00" stroke="#888" stroke-width="0.9" />
<rect x="74.30" y="399.60" width="2.90" height="82.00" fill="#1b2f86" stroke="none" stroke-width="1" />
<text x="13.80" y="407.10" font-size="7.4" fill="#303030" textLength="49.70" lengthAdjust="spacingAndGlyphs" >Ctrl - H3K27Ac</text>
<text x="81.10" y="406.40" font-size="7.2" fill="#303030" textLength="15.70" lengthAdjust="spacingAndGlyphs" >0–69</text>
<text x="13.80" y="417.18" font-size="7.4" fill="#303030" textLength="52.50" lengthAdjust="spacingAndGlyphs" >HHT - H3K27Ac</text>
<text x="81.10" y="416.48" font-size="7.2" fill="#303030" textLength="15.70" lengthAdjust="spacingAndGlyphs" >0–69</text>
<text x="13.80" y="427.26" font-size="7.4" fill="#303030" textLength="37.00" lengthAdjust="spacingAndGlyphs" >Ctrl - Brd4</text>
<text x="81.10" y="426.56" font-size="7.2" fill="#303030" textLength="15.70" lengthAdjust="spacingAndGlyphs" >0–50</text>
<text x="13.80" y="437.34" font-size="7.4" fill="#303030" textLength="39.80" lengthAdjust="spacingAndGlyphs" >HHT - Brd4</text>
<text x="81.10" y="436.64" font-size="7.2" fill="#303030" textLength="15.70" lengthAdjust="spacingAndGlyphs" >0–50</text>
<text x="13.80" y="447.42" font-size="7.4" fill="#303030" textLength="36.50" lengthAdjust="spacingAndGlyphs" >Ctrl - P300</text>
<text x="81.10" y="446.72" font-size="7.2" fill="#303030" textLength="15.70" lengthAdjust="spacingAndGlyphs" >0–36</text>
<text x="13.80" y="457.50" font-size="7.4" fill="#303030" textLength="39.30" lengthAdjust="spacingAndGlyphs" >HHT - P300</text>
<text x="81.10" y="456.80" font-size="7.2" fill="#303030" textLength="15.70" lengthAdjust="spacingAndGlyphs" >0–36</text>
<text x="13.80" y="467.58" font-size="7.4" fill="#303030" textLength="37.50" lengthAdjust="spacingAndGlyphs" >Ctrl - ATAC</text>
<text x="81.10" y="466.88" font-size="7.2" fill="#303030" textLength="15.70" lengthAdjust="spacingAndGlyphs" >0–78</text>
<text x="13.80" y="477.66" font-size="7.4" fill="#303030" textLength="40.30" lengthAdjust="spacingAndGlyphs" >HHT - ATAC</text>
<text x="81.10" y="476.96" font-size="7.2" fill="#303030" textLength="15.70" lengthAdjust="spacingAndGlyphs" >0–78</text>
<path d="M80.0,409.60V408.32H80.5V408.27H81.0V408.39H81.5V408.16H82.0V408.28H82.5V408.00H83.0V407.91H83.5V408.25H84.0V408.11H84.5V408.42H85.0V408.34H85.5V408.44H86.0V408.23H86.5V409.60ZM87.0,409.60V408.21H87.5V408.10H88.0V408.25H88.5V408.32H89.0V408.50H89.5V408.60H90.0V409.60ZM90.5,409.60V408.37H91.0V408.44H91.5V408.39H92.0V408.08H92.5V408.39H93.0V408.05H93.5V408.09H94.0V408.17H94.5V408.19H95.0V408.46H95.5V408.28H96.0V408.54H96.5V408.52H97.0V408.57H97.5V408.59H98.0V408.33H98.5V408.34H99.0V408.54H99.5V408.45H100.0V408.22H100.5V408.05H101.0V408.04H101.5V408.19H102.0V408.04H102.5V408.12H103.0V408.36H103.5V408.60H104.0V408.56H104.5V409.60ZM105.0,409.60V408.18H105.5V408.17H106.0V407.98H106.5V407.98H107.0V408.03H107.5V407.90H108.0V408.06H108.5V408.01H109.0V409.60ZM109.5,409.60V408.14H110.0V408.27H110.5V408.36H111.0V408.48H111.5V408.26H112.0V408.48H112.5V408.49H113.0V408.49H113.5V408.71H114.0V408.40H114.5V409.60ZM115.0,409.60V408.44H115.5V408.45H116.0V408.37H116.5V408.33H117.0V408.52H117.5V408.56H118.0V408.43H118.5V408.55H119.0V408.53H119.5V409.60ZM120.0,409.60V408.61H120.5V408.38H121.0V405.68H121.5V406.11H122.0V405.64H122.5V405.57H123.0V405.67H123.5V405.74H124.0V405.44H124.5V405.65H125.0V405.46H125.5V405.69H126.0V405.46H126.5V405.58H127.0V405.62H127.5V405.44H128.0V405.69H128.5V405.60H129.0V405.52H129.5V405.31H130.0V405.65H130.5V405.38H131.0V405.53H131.5V405.68H132.0V405.52H132.5V405.45H133.0V405.65H133.5V405.34H134.0V406.21H134.5V409.60ZM135.0,409.60V406.73H135.5V406.64H136.0V406.70H136.5V406.74H137.0V406.47H137.5V406.41H138.0V406.45H138.5V406.27H139.0V406.49H139.5V406.26H140.0V406.30H140.5V406.44H141.0V406.33H141.5V406.41H142.0V406.54H142.5V406.42H143.0V406.59H143.5V406.77H144.0V406.83H144.5V406.69H145.0V406.66H145.5V406.64H146.0V409.28H146.5V409.29H147.0V409.21H147.5V409.27H148.0V407.95H148.5V408.00H149.0V407.77H149.5V407.47H150.0V407.29H150.5V407.23H151.0V407.59H151.5V407.34H152.0V407.82H152.5V407.64H153.0V407.51H153.5V407.50H154.0V407.24H154.5V407.34H155.0V407.83H155.5V407.39H156.0V407.72H156.5V407.28H157.0V406.97H157.5V407.09H158.0V407.26H158.5V407.59H159.0V407.44H159.5V408.03H160.0V408.22H160.5V407.88H161.0V408.07H161.5V407.84H162.0V408.59H162.5V408.31H163.0V408.35H163.5V408.28H164.0V408.28H164.5V408.38H165.0V408.38H165.5V408.31H166.0V408.20H166.5V408.29H167.0V408.29H167.5V408.49H168.0V408.47H168.5V408.63H169.0V408.73H169.5V408.75H170.0V408.77H170.5V408.67H171.0V408.39H171.5V408.56H172.0V408.38H172.5V408.53H173.0V408.50H173.5V408.56H174.0V408.52H174.5V408.71H175.0V408.74H175.5V408.72H176.0V408.78H176.5V408.89H177.0V408.69H177.5V408.76H178.0V408.71H178.5V408.74H179.0V408.48H179.5V408.53H180.0V408.62H180.5V408.55H181.0V408.76H181.5V408.74H182.0V408.73H182.5V408.93H183.0V408.87H183.5V408.72H184.0V408.76H184.5V408.87H185.0V408.92H185.5V408.97H186.0V408.77H186.5V408.96H187.0V408.81H187.5V408.82H188.0V408.61H188.5V408.55H189.0V408.54H189.5V408.59H190.0V408.68H190.5V408.80H191.0V408.85H191.5V408.77H192.0V408.78H192.5V408.70H193.0V408.74H193.5V408.82H194.0V408.75H194.5V408.69H195.0V408.93H195.5V408.73H196.0V408.70H196.5V408.77H197.0V408.57H197.5V408.68H198.0V408.81H198.5V408.88H199.0V408.79H199.5V408.77H200.0V408.59H200.5V408.60H201.0V408.71H201.5V408.75H202.0V408.91H202.5V408.74H203.0V408.83H203.5V408.66H204.0V408.47H204.5V408.48H205.0V408.40H205.5V408.19H206.0V408.34H206.5V408.20H207.0V408.23H207.5V408.09H208.0V409.60ZM208.5,409.60V407.88H209.0V407.87H209.5V407.97H210.0V409.60ZM210.5,409.60V408.25H211.0V408.43H211.5V408.25H212.0V408.02H212.5V408.17H213.0V407.87H213.5V408.20H214.0V408.41H214.5V408.17H215.0V408.25H215.5V408.41H216.0V408.71H216.5V408.79H217.0V408.61H217.5V408.62H218.0V408.62H218.5V408.71H219.0V408.73H219.5V408.67H220.0V408.73H220.5V408.71H221.0V408.73H221.5V408.80H222.0V408.65H222.5V408.60H223.0V408.54H223.5V408.70H224.0V408.93H224.5V408.68H225.0V408.76H225.5V408.75H226.0V408.77H226.5V408.61H227.0V409.60ZM227.5,409.60V408.64H228.0V408.71H228.5V408.82H229.0V408.83H229.5V408.81H230.0V408.18H230.5V408.13H231.0V407.94H231.5V408.08H232.0V407.98H232.5V407.93H233.0V407.79H233.5V407.85H234.0V407.96H234.5V407.57H235.0V407.64H235.5V407.42H236.0V407.96H236.5V407.57H237.0V407.74H237.5V407.79H238.0V407.82H238.5V407.53H239.0V407.61H239.5V407.48H240.0V407.80H240.5V407.67H241.0V407.83H241.5V407.26H242.0V407.19H242.5V407.07H243.0V406.95H243.5V406.86H244.0V407.05H244.5V407.32H245.0V407.52H245.5V407.42H246.0V407.44H246.5V407.21H247.0V407.27H247.5V407.29H248.0V409.60ZM248.5,409.60V407.23H249.0V407.12H249.5V407.31H250.0V407.35H250.5V407.17H251.0V407.17H251.5V407.19H252.0V406.95H252.5V407.02H253.0V406.94H253.5V406.97H254.0V406.76H254.5V406.71H255.0V406.82H255.5V406.88H256.0V407.01H256.5V407.07H257.0V406.90H257.5V407.05H258.0V406.82H258.5V406.81H259.0V406.54H259.5V406.67H260.0V406.39H260.5V406.55H261.0V406.61H261.5V406.59H262.0V406.65H262.5V409.60ZM263.0,409.60V406.55H263.5V406.18H264.0V406.16H264.5V406.12H265.0V405.95H265.5V405.75H266.0V405.30H266.5V405.76H267.0V405.67H267.5V405.96H268.0V405.73H268.5V405.81H269.0V405.97H269.5V405.94H270.0V406.18H270.5V406.42H271.0V406.48H271.5V404.76H272.0V406.36H272.5V406.24H273.0V406.24H273.5V406.10H274.0V406.42H274.5V406.34H275.0V406.46H275.5V406.76H276.0V409.60ZM276.5,409.60V407.24H277.0V407.33H277.5V407.50H278.0V407.54H278.5V407.54H279.0V407.81H279.5V407.78H280.0V407.40H280.5V407.71H281.0V407.92H281.5V407.99H282.0V408.12H282.5V407.95H283.0V408.40H283.5V408.37H284.0V408.21H284.5V409.60ZM285.0,409.60V408.41H285.5V408.59H286.0V408.61H286.5V409.60ZM287.0,409.60V408.61H287.5V408.81H288.0V408.88H288.5V408.96H289.0V408.76H289.5V408.87H290.0V408.76H290.5V408.74H291.0V408.73H291.5V408.54H292.0V408.74H292.5V408.55H293.0V408.62H293.5V408.51H294.0V408.54H294.5V408.69H295.0V408.73H295.5V408.82H296.0V408.86H296.5V408.79H297.0V408.70H297.5V408.61H298.0V408.49H298.5V408.60H299.0V408.81H299.5V408.78H300.0V409.14H300.5V409.60ZM301.0,409.60V409.15H301.5V409.02H302.0V409.11H302.5V409.11H303.0V409.07H303.5V408.99H304.0V409.09H304.5V409.06H305.0V409.01H305.5V409.06H306.0V409.18H306.5V409.14H307.0V409.60ZM307.5,409.60V409.06H308.0V409.60ZM308.5,409.60V409.05H309.0V409.09H309.5V409.05H310.0V408.97H310.5V409.04H311.0V408.99H311.5V409.08H312.0V409.14H312.5V409.10H313.0V409.13H313.5V409.60ZM314.0,409.60V408.99H314.5V408.88H315.0V408.89H315.5V408.94H316.0V408.86H316.5V408.82H317.0V408.87H317.5V408.93H318.0V409.01H318.5V408.99H319.0V408.99H319.5V408.97H320.0V409.01H320.5V409.00H321.0V409.00H321.5V409.04H322.0V408.97H322.5V409.01H323.0V409.60ZM323.5,409.60V409.12H324.0V409.12H324.5V409.11H325.0V409.12H325.5V409.16H326.0V409.60ZM326.5,409.60V409.04H327.0V409.08H327.5V409.02H328.0V408.88H328.5V408.94H329.0V408.86H329.5V408.92H330.0V408.95H330.5V408.95H331.0V408.83H331.5V408.86H332.0V409.60ZM332.5,409.60V409.07H333.0V409.12H333.5V409.11H334.0V409.05H334.5V409.01H335.0V409.60ZM335.5,409.60V409.01H336.0V409.01H336.5V408.98H337.0V408.96H337.5V408.87H338.0V408.99H338.5V409.03H339.0V409.00H339.5V408.94H340.0V409.02H340.5V408.91H341.0V408.93H341.5V408.93H342.0V409.09H342.5V409.13H343.0V409.06H343.5V409.10H344.0V409.06H344.5V409.04H345.0V408.91H345.5V409.00H346.0V408.87H346.5V408.96H347.0V408.85H347.5V408.87H348.0V408.88H348.5V408.96H349.0V408.88H349.5V408.93H350.0V408.91H350.5V408.89H351.0V409.00H351.5V408.90H352.0V408.98H352.5V409.60ZM353.0,409.60V408.83H353.5V408.96H354.0V408.94H354.5V408.99H355.0V408.94H355.5V409.60ZM356.0,409.60V409.06H356.5V409.60ZM357.0,409.60V408.91H357.5V408.99H358.0V408.99H358.5V408.90H359.0V408.93H359.5V408.85H360.0V408.92H360.5V408.90H361.0V409.00H361.5V409.01H362.0V409.06H362.5V409.03H363.0V408.98H363.5V408.99H364.0V409.00H364.5V408.97H365.0V408.96H365.5V408.94H366.0V409.00H366.5V409.05H367.0V409.01H367.5V409.03H368.0V408.88H368.5V408.93H369.0V409.02H369.5V409.04H370.0V409.01H370.5V408.98H371.0V408.91H371.5V408.89H372.0V408.92H372.5V409.03H373.0V409.60ZM373.5,409.60V409.09H374.0V409.10H374.5V409.13H375.0V409.14H375.5V408.93H376.0V409.60ZM376.5,409.60V408.88H377.0V408.87H377.5V408.83H378.0V408.84H378.5V408.96H379.0V408.92H379.5V408.95H380.0V409.00H380.5V408.98H381.0V408.98H381.5V408.93H382.0V408.98H382.5V409.06H383.0V409.03H383.5V409.00H384.0V408.99H384.5V408.95H385.0V409.02H385.5V409.04H386.0V409.00H386.5V409.60ZM387.0,409.60V409.03H387.5V408.99H388.0V409.01H388.5V408.96H389.0V409.00H389.5V409.01H390.0V409.10H390.5V409.06H391.0V409.08H391.5V408.91H392.0V408.99H392.5V408.91H393.0V409.03H393.5V409.08H394.0V409.06H394.5V408.98H395.0V408.79H395.5V408.86H396.0V408.74H396.5V408.76H397.0V408.84H397.5V408.82H398.0V408.87H398.5V409.60ZM399.0,409.60V408.84H399.5V408.76H400.0V408.81H400.5V408.64H401.0V408.82H401.5V408.69H402.0V408.71H402.5V408.67H403.0V408.83H403.5V408.71H404.0V408.64H404.5V408.68H405.0V408.78H405.5V408.71H406.0V408.76H406.5V408.88H407.0V408.98H407.5V408.91H408.0V408.95H408.5V408.94H409.0V408.84H409.5V408.81H410.0V408.74H410.5V408.87H411.0V408.85H411.5V409.60ZM412.0,409.60V408.74H412.5V408.96H413.0V408.93H413.5V408.88H414.0V409.00H414.5V408.96H415.0V408.73H415.5V408.81H416.0V408.68H416.5V409.60ZM417.0,409.60V408.76H417.5V408.79H418.0V408.72H418.5V408.87H419.0V408.82H419.5V408.88H420.0V408.72H420.5V408.76H421.0V408.65H421.5V408.78H422.0V408.83H422.5V408.82H423.0V408.74H423.5V408.79H424.0V408.65H424.5V408.75H425.0V408.82H425.5V408.81H426.0V408.80H426.5V408.87H427.0V408.86H427.5V408.78H428.0V408.86H428.5V408.77H429.0V408.59H429.5V408.64H430.0V408.73H430.5V408.74H431.0V408.72H431.5V408.70H432.0V408.59H432.5V408.71H433.0V408.69H433.5V408.86H434.0V408.77H434.5V408.84H435.0V408.68H435.5V409.60ZM436.0,409.60V408.82H436.5V408.85H437.0V408.83H437.5V408.78H438.0V408.80H438.5V408.84H439.0V408.83H439.5V408.94H440.0V408.82H440.5V408.83H441.0V408.79H441.5V408.77H442.0V408.63H442.5V408.76H443.0V408.66H443.5V408.75H444.0V408.65H444.5V408.81H445.0V408.83H445.5V408.59H446.0V408.78H446.5V408.65H447.0V408.82H447.5V408.85H448.0V408.96H448.5V408.97H449.0V408.89H449.5V408.85H450.0V408.91H450.5V408.92H451.0V408.82H451.5V408.75H452.0V408.77H452.5V408.76H453.0V408.90H453.5V408.80H454.0V408.91H454.5V409.60ZM455.0,409.60V408.80H455.5V408.80H456.0V408.82H456.5V409.60ZM457.0,409.60V408.83H457.5V408.73H458.0V408.87H458.5V408.88H459.0V408.88H459.5V408.85H460.0V408.80H460.5V408.75H461.0V408.84H461.5V408.81H462.0V408.68H462.5V408.71H463.0V408.67H463.5V408.67H464.0V408.74H464.5V408.79H465.0V408.74H465.5V408.87H466.0V408.88H466.5V408.89H467.0V408.87H467.5V409.06H468.0V408.85H468.5V409.60ZM469.0,409.60V408.82H469.5V408.81H470.0V408.59H470.5V408.43H471.0V408.55H471.5V408.58H472.0V408.87H472.5V408.72H473.0V408.57H473.5V408.47H474.0V408.37H474.5V408.28H475.0V408.49H475.5V408.35H476.0V408.44H476.5V408.43H477.0V409.60ZM477.5,409.60V408.39H478.0V408.27H478.5V409.60ZM479.0,409.60V408.29H479.5V408.66H480.0V408.64H480.5V408.41H481.0V408.70H481.5V408.54H482.0V408.51H482.5V408.42H483.0V408.40H483.5V408.50H484.0V408.28H484.5V408.45H485.0V408.60H485.5V408.12H486.0V407.97H486.5V408.06H487.0V407.99H487.5V408.07H488.0V408.51H488.5V408.38H489.0V408.16H489.5V408.26H490.0V408.24H490.5V408.26H491.0V408.18H491.5V408.07H492.0V407.75H492.5V407.32H493.0V407.07H493.5V406.97H494.0V406.76H494.5V406.64H495.0V406.46H495.5V406.05H496.0V406.00H496.5V405.57H497.0V405.20H497.5V405.09H498.0V404.73H498.5V404.81H499.0V404.74H499.5V404.63H500.0V404.02H500.5V409.60ZM501.0,409.60V403.69H501.5V402.02H502.0V403.45H502.5V403.48H503.0V403.49H503.5V408.58H504.0V408.51H504.5V408.42H505.0V404.89H505.5V404.94H506.0V404.84H506.5V405.26H507.0V405.10H507.5V405.40H508.0V409.60ZM508.5,409.60V408.33H509.0V408.37H509.5V408.24H510.0V408.30H510.5V408.21H511.0V408.37H511.5V408.17H512.0V408.32H512.5V408.49H513.0V408.54H513.5V408.86H514.0V409.60Z" fill="#3cb04a" stroke="none" stroke-width="1" />
<path d="M80.0,419.80V419.34H80.5V419.22H81.0V419.18H81.5V419.17H82.0V419.05H82.5V419.25H83.0V419.80ZM83.5,419.80V419.18H84.0V419.24H84.5V419.14H85.0V419.16H85.5V419.16H86.0V419.31H86.5V419.33H87.0V419.80ZM87.5,419.80V419.31H88.0V419.80ZM88.5,419.80V419.22H89.0V419.80ZM89.5,419.80V419.17H90.0V419.20H90.5V419.10H91.0V419.80ZM91.5,419.80V419.18H92.0V419.11H92.5V419.12H93.0V419.14H93.5V419.10H94.0V419.19H94.5V419.21H95.0V419.17H95.5V419.22H96.0V419.19H96.5V419.14H97.0V419.24H97.5V419.15H98.0V419.26H98.5V419.21H99.0V419.23H99.5V419.21H100.0V419.19H100.5V419.17H101.0V419.11H101.5V419.21H102.0V419.33H102.5V419.24H103.0V419.20H103.5V419.17H104.0V419.14H104.5V419.19H105.0V419.08H105.5V419.17H106.0V419.16H106.5V419.20H107.0V419.33H107.5V419.26H108.0V419.12H108.5V419.80ZM109.0,419.80V419.15H109.5V419.11H110.0V419.24H110.5V419.29H111.0V419.80ZM111.5,419.80V419.15H112.0V419.22H112.5V419.23H113.0V419.80ZM113.5,419.80V419.30H114.0V419.16H114.5V419.10H115.0V419.06H115.5V419.80ZM116.0,419.80V419.13H116.5V419.16H117.0V419.27H117.5V419.18H118.0V419.80ZM118.5,419.80V419.09H119.0V419.80ZM119.5,419.80V419.18H120.0V419.35H120.5V419.80ZM122.0,419.80V416.30H122.5V416.50H123.0V416.78H123.5V416.51H124.0V416.58H124.5V416.73H125.0V416.74H125.5V416.60H126.0V416.32H126.5V416.30H127.0V416.38H127.5V416.15H128.0V419.80ZM128.5,419.80V416.24H129.0V416.26H129.5V416.13H130.0V416.40H130.5V416.16H131.0V416.06H131.5V416.31H132.0V416.32H132.5V416.40H133.0V417.83H133.5V417.63H134.0V417.95H134.5V419.80ZM135.0,419.80V417.65H135.5V417.84H136.0V419.80ZM137.5,419.80V417.98H138.0V417.76H138.5V418.04H139.0V418.15H139.5V418.09H140.0V418.93H140.5V418.88H141.0V419.80ZM141.5,419.80V418.79H142.0V418.95H142.5V418.87H143.0V418.89H143.5V418.75H144.0V418.76H144.5V418.84H145.0V418.91H145.5V418.93H146.0V418.86H146.5V418.70H147.0V418.87H147.5V418.87H148.0V418.74H148.5V418.90H149.0V418.74H149.5V418.77H150.0V418.83H150.5V418.80H151.0V418.73H151.5V418.83H152.0V419.80ZM152.5,419.80V418.79H153.0V418.87H153.5V418.71H154.0V418.66H154.5V419.80ZM155.0,419.80V418.92H155.5V419.80ZM156.0,419.80V418.65H156.5V419.80ZM157.0,419.80V418.50H157.5V418.60H158.0V418.71H158.5V419.80ZM159.0,419.80V418.73H159.5V418.98H160.0V418.94H160.5V418.91H161.0V419.04H161.5V418.84H162.0V419.00H162.5V418.92H163.0V418.85H163.5V419.80ZM164.0,419.80V418.86H164.5V418.68H165.0V418.83H165.5V419.80ZM166.0,419.80V418.74H166.5V418.75H167.0V419.80ZM167.5,419.80V418.48H168.0V418.67H168.5V418.69H169.0V418.57H169.5V418.74H170.0V418.65H170.5V418.69H171.0V418.71H171.5V418.50H172.0V418.70H172.5V418.60H173.0V419.80ZM174.0,419.80V418.68H174.5V418.59H175.0V418.71H175.5V418.91H176.0V419.32H176.5V419.80ZM177.0,419.80V419.27H177.5V419.29H178.0V419.80ZM178.5,419.80V419.21H179.0V419.24H179.5V419.10H180.0V419.80ZM180.5,419.80V419.16H181.0V419.14H181.5V419.21H182.0V419.24H182.5V419.25H183.0V419.80ZM183.5,419.80V419.11H184.0V419.13H184.5V419.11H185.0V419.80ZM185.5,419.80V419.16H186.0V419.80ZM187.5,419.80V419.30H188.0V419.80ZM189.0,419.80V419.16H189.5V419.22H190.0V419.80ZM190.5,419.80V419.15H191.0V419.80ZM191.5,419.80V419.22H192.0V419.80ZM193.0,419.80V419.33H193.5V419.80ZM194.0,419.80V419.25H194.5V419.19H195.0V419.80ZM195.5,419.80V419.15H196.0V419.18H196.5V419.07H197.0V419.11H197.5V419.25H198.0V419.23H198.5V419.29H199.0V419.40H199.5V419.35H200.0V419.27H200.5V419.18H201.0V419.80ZM201.5,419.80V419.07H202.0V419.19H202.5V419.10H203.0V419.17H203.5V419.08H204.0V419.16H204.5V419.10H205.0V419.17H205.5V419.25H206.0V419.17H206.5V419.80ZM207.0,419.80V419.24H207.5V419.19H208.0V419.12H208.5V419.80ZM209.0,419.80V419.07H209.5V419.16H210.0V419.14H210.5V419.80ZM211.0,419.80V419.35H211.5V419.35H212.0V419.80ZM213.5,419.80V419.27H214.0V419.15H214.5V419.80ZM215.0,419.80V419.15H215.5V419.06H216.0V419.01H216.5V419.12H217.0V419.13H217.5V419.12H218.0V419.20H218.5V419.10H219.0V419.19H219.5V419.80ZM220.5,419.80V419.29H221.0V419.23H221.5V419.16H222.0V419.80ZM223.5,419.80V419.24H224.0V419.31H224.5V419.28H225.0V419.80ZM225.5,419.80V419.22H226.0V419.24H226.5V419.80ZM227.5,419.80V419.31H228.0V419.16H228.5V419.26H229.0V419.14H229.5V419.18H230.0V418.68H230.5V418.66H231.0V418.74H231.5V418.85H232.0V419.80ZM232.5,419.80V418.89H233.0V418.78H233.5V418.86H234.0V419.80ZM234.5,419.80V418.73H235.0V418.73H235.5V418.85H236.0V418.78H236.5V418.78H237.0V418.91H237.5V418.83H238.0V418.83H238.5V418.78H239.0V418.85H239.5V419.80ZM240.0,419.80V418.91H240.5V418.96H241.0V418.98H241.5V419.03H242.0V419.80ZM242.5,419.80V418.93H243.0V419.80ZM244.0,419.80V418.79H244.5V419.80ZM245.0,419.80V418.87H245.5V418.72H246.0V419.80ZM246.5,419.80V418.74H247.0V419.80ZM247.5,419.80V418.92H248.0V419.80ZM248.5,419.80V418.89H249.0V418.81H249.5V419.03H250.0V418.87H250.5V418.69H251.0V418.72H251.5V419.80ZM252.0,419.80V418.69H252.5V418.92H253.0V418.77H253.5V418.98H254.0V418.92H254.5V418.67H255.0V418.90H255.5V418.92H256.0V419.80ZM256.5,419.80V418.75H257.0V418.76H257.5V418.59H258.0V418.82H258.5V419.80ZM259.5,419.80V418.93H260.0V418.96H260.5V419.01H261.0V418.88H261.5V419.80ZM262.0,419.80V418.49H262.5V418.38H263.0V418.30H263.5V418.46H264.0V418.44H264.5V418.33H265.0V418.23H265.5V417.89H266.0V417.93H266.5V418.04H267.0V418.08H267.5V418.11H268.0V417.65H268.5V417.12H269.0V419.80ZM270.0,419.80V417.62H270.5V419.80ZM271.0,419.80V417.81H271.5V417.84H272.0V418.16H272.5V418.05H273.0V417.85H273.5V417.77H274.0V417.36H274.5V417.84H275.0V419.80ZM276.0,419.80V418.79H276.5V419.80ZM277.0,419.80V418.79H277.5V418.93H278.0V418.81H278.5V418.77H279.0V418.53H279.5V418.67H280.0V418.60H280.5V418.69H281.0V419.80ZM281.5,419.80V418.85H282.0V419.22H282.5V419.16H283.0V419.21H283.5V419.16H284.0V419.22H284.5V419.14H285.0V419.06H285.5V419.08H286.0V419.03H286.5V419.80ZM288.5,419.80V419.28H289.0V419.27H289.5V419.32H290.0V419.28H290.5V419.15H291.0V419.80ZM291.5,419.80V419.20H292.0V419.20H292.5V419.08H293.0V419.11H293.5V419.17H294.0V419.22H294.5V419.20H295.0V419.80ZM296.5,419.80V419.15H297.0V419.80ZM297.5,419.80V419.17H298.0V419.29H298.5V419.16H299.0V419.80ZM299.5,419.80V419.19H300.0V419.26H300.5V419.80ZM301.5,419.80V419.09H302.0V419.15H302.5V419.80ZM303.0,419.80V419.21H303.5V419.15H304.0V419.22H304.5V419.18H305.0V419.16H305.5V419.09H306.0V419.16H306.5V419.80ZM307.5,419.80V419.32H308.0V419.80ZM309.0,419.80V419.13H309.5V419.29H310.0V419.24H310.5V419.30H311.0V419.20H311.5V419.34H312.0V419.80ZM313.0,419.80V419.22H313.5V419.06H314.0V419.80ZM315.0,419.80V419.22H315.5V419.32H316.0V419.31H316.5V419.23H317.0V419.20H317.5V419.18H318.0V419.07H318.5V419.80ZM319.0,419.80V419.15H319.5V419.15H320.0V419.09H320.5V419.06H321.0V419.02H321.5V419.09H322.0V419.80ZM322.5,419.80V419.21H323.0V419.15H323.5V419.16H324.0V419.80ZM324.5,419.80V419.08H325.0V419.16H325.5V419.80ZM326.5,419.80V419.27H327.0V419.23H327.5V419.27H328.0V419.17H328.5V419.15H329.0V419.18H329.5V419.13H330.0V419.80ZM331.0,419.80V419.33H331.5V419.30H332.0V419.28H332.5V419.80ZM333.5,419.80V419.22H334.0V419.22H334.5V419.15H335.0V419.08H335.5V419.08H336.0V419.11H336.5V419.10H337.0V419.07H337.5V419.22H338.0V419.11H338.5V419.04H339.0V419.80ZM339.5,419.80V419.13H340.0V419.21H340.5V419.25H341.0V419.22H341.5V419.25H342.0V419.31H342.5V419.20H343.0V419.21H343.5V419.35H344.0V419.26H344.5V419.80ZM345.0,419.80V419.27H345.5V419.80ZM346.0,419.80V419.24H346.5V419.80ZM347.0,419.80V419.04H347.5V419.80ZM348.0,419.80V419.24H348.5V419.33H349.0V419.32H349.5V419.31H350.0V419.21H350.5V419.21H351.0V419.31H351.5V419.26H352.0V419.22H352.5V419.18H353.0V419.37H353.5V419.80ZM354.0,419.80V419.26H354.5V419.35H355.0V419.30H355.5V419.19H356.0V419.33H356.5V419.19H357.0V419.29H357.5V419.24H358.0V419.33H358.5V419.26H359.0V419.23H359.5V419.80ZM360.0,419.80V419.24H360.5V419.11H361.0V419.12H361.5V419.13H362.0V419.18H362.5V419.80ZM363.0,419.80V419.13H363.5V419.25H364.0V419.80ZM364.5,419.80V419.15H365.0V419.06H365.5V419.13H366.0V419.15H366.5V419.16H367.0V419.80ZM367.5,419.80V419.08H368.0V419.09H368.5V419.16H369.0V419.22H369.5V419.80ZM370.5,419.80V419.33H371.0V419.32H371.5V419.24H372.0V419.26H372.5V419.80ZM373.0,419.80V419.28H373.5V419.26H374.0V419.29H374.5V419.80ZM375.0,419.80V419.28H375.5V419.10H376.0V419.12H376.5V419.04H377.0V419.03H377.5V419.18H378.0V419.10H378.5V419.13H379.0V419.27H379.5V419.19H380.0V419.23H380.5V419.22H381.0V419.29H381.5V419.28H382.0V419.80ZM382.5,419.80V419.26H383.0V419.24H383.5V419.17H384.0V419.80ZM384.5,419.80V419.22H385.0V419.80ZM385.5,419.80V419.26H386.0V419.25H386.5V419.23H387.0V419.19H387.5V419.80ZM388.0,419.80V419.04H388.5V419.09H389.0V419.14H389.5V419.21H390.0V419.21H390.5V419.16H391.0V419.18H391.5V419.14H392.0V419.80ZM393.0,419.80V419.08H393.5V419.07H394.0V419.80ZM394.5,419.80V419.15H395.0V419.26H395.5V419.22H396.0V419.16H396.5V419.34H397.0V419.29H397.5V419.23H398.0V419.17H398.5V419.02H399.0V419.02H399.5V419.12H400.0V419.15H400.5V419.23H401.0V419.80ZM401.5,419.80V419.37H402.0V419.27H402.5V419.80ZM403.0,419.80V419.23H403.5V419.10H404.0V419.19H404.5V419.80ZM405.0,419.80V419.31H405.5V419.19H406.0V419.36H406.5V419.28H407.0V419.26H407.5V419.31H408.0V419.32H408.5V419.22H409.0V419.24H409.5V419.33H410.0V419.80ZM410.5,419.80V419.16H411.0V419.14H411.5V419.80ZM413.0,419.80V419.26H413.5V419.33H414.0V419.36H414.5V419.80ZM415.5,419.80V419.30H416.0V419.19H416.5V419.17H417.0V419.25H417.5V419.80ZM418.0,419.80V419.08H418.5V419.80ZM419.0,419.80V419.24H419.5V419.14H420.0V419.22H420.5V419.80ZM421.0,419.80V419.10H421.5V419.18H422.0V419.80ZM422.5,419.80V419.14H423.0V419.80ZM423.5,419.80V419.33H424.0V419.30H424.5V419.80ZM425.0,419.80V419.36H425.5V419.30H426.0V419.37H426.5V419.36H427.0V419.21H427.5V419.21H428.0V419.30H428.5V419.39H429.0V419.30H429.5V419.22H430.0V419.32H430.5V419.80ZM431.0,419.80V419.26H431.5V419.27H432.0V419.18H432.5V419.80ZM433.5,419.80V419.17H434.0V419.24H434.5V419.27H435.0V419.14H435.5V419.28H436.0V419.80ZM437.0,419.80V419.16H437.5V419.27H438.0V419.29H438.5V419.80ZM439.0,419.80V419.22H439.5V419.18H440.0V419.80ZM440.5,419.80V419.25H441.0V419.23H441.5V419.08H442.0V419.12H442.5V419.09H443.0V419.12H443.5V419.21H444.0V419.80ZM444.5,419.80V419.22H445.0V419.25H445.5V419.15H446.0V419.15H446.5V419.12H447.0V419.18H447.5V419.80ZM448.0,419.80V419.13H448.5V419.28H449.0V419.30H449.5V419.31H450.0V419.15H450.5V419.10H451.0V419.12H451.5V419.80ZM452.0,419.80V419.17H452.5V419.29H453.0V419.32H453.5V419.80ZM454.5,419.80V419.15H455.0V419.08H455.5V419.10H456.0V419.80ZM456.5,419.80V419.05H457.0V419.08H457.5V419.18H458.0V419.80ZM458.5,419.80V419.15H459.0V419.25H459.5V419.34H460.0V419.26H460.5V419.26H461.0V419.26H461.5V419.80ZM462.0,419.80V419.05H462.5V419.80ZM463.5,419.80V419.24H464.0V419.18H464.5V419.30H465.0V419.31H465.5V419.32H466.0V419.22H466.5V419.23H467.0V419.15H467.5V419.14H468.0V419.27H468.5V419.80ZM469.0,419.80V419.30H469.5V419.80ZM470.0,419.80V419.08H470.5V419.02H471.0V418.91H471.5V418.97H472.0V419.06H472.5V418.96H473.0V418.93H473.5V418.78H474.0V418.79H474.5V418.84H475.0V419.08H475.5V419.01H476.0V419.00H476.5V419.00H477.0V418.95H477.5V418.91H478.0V418.94H478.5V418.68H479.0V418.87H479.5V418.84H480.0V418.97H480.5V418.96H481.0V418.87H481.5V418.86H482.0V419.80ZM482.5,419.80V418.86H483.0V418.73H483.5V418.73H484.0V418.71H484.5V418.53H485.0V418.49H485.5V418.46H486.0V418.64H486.5V418.76H487.0V418.73H487.5V418.65H488.0V419.80ZM488.5,419.80V418.62H489.0V418.67H489.5V418.91H490.0V419.80ZM491.0,419.80V418.58H491.5V418.54H492.0V418.48H492.5V418.37H493.0V418.18H493.5V418.22H494.0V417.62H494.5V417.40H495.0V417.41H495.5V417.16H496.0V419.80ZM496.5,419.80V416.86H497.0V416.41H497.5V416.06H498.0V419.80ZM498.5,419.80V416.49H499.0V416.14H499.5V416.18H500.0V416.25H500.5V415.57H501.0V415.90H501.5V415.83H502.0V415.64H502.5V415.79H503.0V415.58H503.5V418.54H504.0V418.68H504.5V418.48H505.0V416.74H505.5V416.59H506.0V416.62H506.5V416.72H507.0V416.77H507.5V418.28H508.0V418.16H508.5V418.34H509.0V418.34H509.5V418.56H510.0V418.69H510.5V418.72H511.0V418.62H511.5V418.60H512.0V418.47H512.5V418.88H513.0V419.04H513.5V419.80Z" fill="#3cb04a" stroke="none" stroke-width="1" />
<path d="M80.0,430.00V428.01H80.5V428.38H81.0V428.56H81.5V428.82H82.0V428.72H82.5V430.00ZM83.0,430.00V428.68H83.5V429.03H84.0V428.99H84.5V428.81H85.0V428.86H85.5V428.83H86.0V430.00ZM86.5,430.00V428.40H87.0V428.15H87.5V428.33H88.0V428.14H88.5V428.30H89.0V428.74H89.5V430.00ZM90.0,430.00V428.73H90.5V429.03H91.0V428.96H91.5V428.73H92.0V429.06H92.5V428.75H93.0V429.14H93.5V428.69H94.0V429.02H94.5V430.00ZM95.0,430.00V428.60H95.5V428.87H96.0V428.91H96.5V428.70H97.0V428.81H97.5V428.39H98.0V428.54H98.5V430.00ZM99.0,430.00V427.91H99.5V428.13H100.0V430.00ZM100.5,430.00V428.25H101.0V428.22H101.5V428.05H102.0V428.28H102.5V428.07H103.0V428.05H103.5V428.15H104.0V428.51H104.5V430.00ZM105.0,430.00V428.20H105.5V428.15H106.0V428.08H106.5V428.19H107.0V428.49H107.5V428.50H108.0V428.51H108.5V428.88H109.0V428.56H109.5V428.51H110.0V430.00ZM110.5,430.00V428.62H111.0V428.40H111.5V428.81H112.0V428.76H112.5V430.00ZM113.0,430.00V428.65H113.5V429.03H114.0V428.64H114.5V428.59H115.0V428.25H115.5V428.18H116.0V428.46H116.5V428.58H117.0V428.70H117.5V428.49H118.0V428.67H118.5V428.47H119.0V427.37H119.5V426.03H120.0V427.65H120.5V430.00ZM121.0,430.00V427.27H121.5V426.85H122.0V427.33H122.5V427.73H123.0V427.30H123.5V427.96H124.0V427.57H124.5V427.40H125.0V427.69H125.5V427.44H126.0V430.00ZM126.5,430.00V427.97H127.0V428.11H127.5V430.00ZM128.5,430.00V427.38H129.0V427.71H129.5V430.00ZM130.0,430.00V427.66H130.5V427.45H131.0V427.68H131.5V427.67H132.0V427.45H132.5V427.57H133.0V427.54H133.5V427.10H134.0V427.51H134.5V427.75H135.0V425.73H135.5V427.45H136.0V426.95H136.5V430.00ZM137.0,430.00V427.37H137.5V427.21H138.0V427.29H138.5V430.00ZM139.0,430.00V427.46H139.5V427.06H140.0V427.20H140.5V427.04H141.0V427.27H141.5V427.21H142.0V427.56H142.5V427.84H143.0V427.52H143.5V427.40H144.0V426.50H144.5V427.27H145.0V427.12H145.5V427.62H146.0V428.67H146.5V430.00ZM147.0,430.00V428.30H147.5V428.35H148.0V428.73H148.5V428.65H149.0V428.74H149.5V428.94H150.0V430.00ZM151.0,430.00V428.89H151.5V428.28H152.0V428.13H152.5V428.79H153.0V428.73H153.5V429.03H154.0V429.10H154.5V428.86H155.0V428.64H155.5V428.87H156.0V428.94H156.5V428.69H157.0V428.66H157.5V428.85H158.0V428.77H158.5V428.62H159.0V428.40H159.5V428.44H160.0V428.64H160.5V428.63H161.0V428.66H161.5V428.67H162.0V428.35H162.5V428.63H163.0V428.44H163.5V428.26H164.0V430.00ZM164.5,430.00V428.43H165.0V428.48H165.5V428.86H166.0V428.47H166.5V430.00ZM167.0,430.00V428.56H167.5V428.49H168.0V428.09H168.5V428.31H169.0V428.10H169.5V427.85H170.0V430.00ZM170.5,430.00V428.94H171.0V428.76H171.5V428.96H172.0V428.90H172.5V428.87H173.0V429.17H173.5V429.08H174.0V428.90H174.5V429.04H175.0V428.84H175.5V429.06H176.0V428.80H176.5V428.79H177.0V428.99H177.5V428.91H178.0V428.89H178.5V428.98H179.0V428.73H179.5V428.90H180.0V429.04H180.5V428.97H181.0V430.00ZM181.5,430.00V428.91H182.0V428.98H182.5V428.71H183.0V430.00ZM184.0,430.00V429.05H184.5V429.32H185.0V429.10H185.5V429.14H186.0V430.00ZM186.5,430.00V429.05H187.0V429.17H187.5V430.00ZM188.0,430.00V429.11H188.5V429.26H189.0V430.00ZM189.5,430.00V428.92H190.0V428.87H190.5V428.93H191.0V428.90H191.5V429.03H192.0V428.95H192.5V429.03H193.0V430.00ZM193.5,430.00V428.88H194.0V428.88H194.5V430.00ZM195.0,430.00V429.14H195.5V428.99H196.0V430.00ZM196.5,430.00V428.79H197.0V428.78H197.5V428.79H198.0V430.00ZM198.5,430.00V428.79H199.0V428.80H199.5V429.00H200.0V429.13H200.5V429.02H201.0V429.03H201.5V428.74H202.0V428.78H202.5V428.91H203.0V429.02H203.5V429.16H204.0V429.12H204.5V429.10H205.0V429.05H205.5V430.00ZM206.0,430.00V429.25H206.5V429.06H207.0V428.96H207.5V429.12H208.0V428.91H208.5V428.75H209.0V429.00H209.5V430.00ZM210.0,430.00V428.83H210.5V430.00ZM211.0,430.00V429.02H211.5V429.04H212.0V429.12H212.5V429.20H213.0V429.19H213.5V428.87H214.0V428.93H214.5V428.82H215.0V428.97H215.5V429.21H216.0V429.08H216.5V428.89H217.0V429.16H217.5V429.02H218.0V430.00ZM218.5,430.00V428.78H219.0V428.79H219.5V429.10H220.0V429.13H220.5V429.17H221.0V429.22H221.5V429.03H222.0V428.95H222.5V429.06H223.0V429.17H223.5V429.18H224.0V428.88H224.5V429.21H225.0V429.02H225.5V429.32H226.0V429.08H226.5V429.06H227.0V428.83H227.5V428.75H228.0V428.91H228.5V430.00ZM229.0,430.00V429.11H229.5V428.98H230.0V428.49H230.5V427.88H231.0V428.04H231.5V428.23H232.0V428.45H232.5V428.00H233.0V428.38H233.5V427.80H234.0V428.30H234.5V427.80H235.0V428.16H235.5V427.78H236.0V430.00ZM236.5,430.00V427.66H237.0V427.44H237.5V427.57H238.0V428.01H238.5V427.97H239.0V427.46H239.5V427.43H240.0V427.38H240.5V427.94H241.0V427.71H241.5V427.46H242.0V428.11H242.5V430.00ZM243.0,430.00V428.34H243.5V428.08H244.0V428.20H244.5V430.00ZM245.0,430.00V427.74H245.5V427.87H246.0V427.67H246.5V430.00ZM247.0,430.00V427.76H247.5V428.04H248.0V428.04H248.5V427.96H249.0V427.34H249.5V427.11H250.0V427.25H250.5V427.59H251.0V427.53H251.5V427.92H252.0V427.26H252.5V427.61H253.0V427.61H253.5V427.90H254.0V427.52H254.5V427.83H255.0V427.48H255.5V427.65H256.0V427.08H256.5V427.46H257.0V428.01H257.5V428.07H258.0V427.76H258.5V427.53H259.0V430.00ZM259.5,430.00V428.07H260.0V427.50H260.5V427.61H261.0V427.96H261.5V428.03H262.0V427.33H262.5V427.81H263.0V426.55H263.5V426.82H264.0V426.15H264.5V426.23H265.0V424.20H265.5V426.36H266.0V426.18H266.5V430.00ZM267.0,430.00V426.87H267.5V426.82H268.0V427.01H268.5V424.83H269.0V430.00ZM269.5,430.00V427.47H270.0V427.08H270.5V426.51H271.0V426.90H271.5V426.13H272.0V423.81H272.5V427.12H273.0V427.55H273.5V427.24H274.0V426.79H274.5V427.04H275.0V426.15H275.5V426.18H276.0V427.49H276.5V428.01H277.0V427.84H277.5V428.42H278.0V427.89H278.5V428.16H279.0V427.81H279.5V427.73H280.0V428.10H280.5V427.86H281.0V428.21H281.5V428.08H282.0V428.04H282.5V428.26H283.0V428.78H283.5V428.67H284.0V428.46H284.5V428.38H285.0V428.78H285.5V428.81H286.0V428.62H286.5V428.86H287.0V430.00ZM287.5,430.00V428.68H288.0V428.70H288.5V428.99H289.0V428.81H289.5V429.02H290.0V429.05H290.5V428.82H291.0V428.98H291.5V428.94H292.0V429.16H292.5V429.01H293.0V428.98H293.5V430.00ZM294.0,430.00V429.29H294.5V428.89H295.0V428.97H295.5V429.12H296.0V428.89H296.5V429.06H297.0V428.97H297.5V429.03H298.0V430.00ZM298.5,430.00V428.93H299.0V428.77H299.5V428.81H300.0V428.77H300.5V429.01H301.0V428.85H301.5V428.82H302.0V428.89H302.5V428.73H303.0V428.97H303.5V428.92H304.0V428.86H304.5V428.67H305.0V428.95H305.5V428.94H306.0V428.89H306.5V428.74H307.0V428.86H307.5V428.76H308.0V428.68H308.5V428.90H309.0V428.67H309.5V428.81H310.0V428.61H310.5V428.67H311.0V428.70H311.5V430.00ZM312.0,430.00V428.63H312.5V428.45H313.0V428.80H313.5V428.63H314.0V428.75H314.5V428.76H315.0V428.70H315.5V430.00ZM316.0,430.00V428.86H316.5V428.79H317.0V428.61H317.5V428.78H318.0V429.00H318.5V429.00H319.0V428.90H319.5V428.85H320.0V428.86H320.5V430.00ZM321.0,430.00V429.17H321.5V429.07H322.0V428.88H322.5V429.00H323.0V428.82H323.5V428.68H324.0V429.10H324.5V428.84H325.0V428.90H325.5V428.95H326.0V429.02H326.5V428.70H327.0V428.66H327.5V428.84H328.0V428.90H328.5V428.73H329.0V428.69H329.5V428.89H330.0V428.89H330.5V428.89H331.0V428.76H331.5V428.97H332.0V428.91H332.5V429.19H333.0V429.14H333.5V429.17H334.0V429.12H334.5V428.98H335.0V428.87H335.5V428.75H336.0V428.81H336.5V428.86H337.0V428.55H337.5V428.85H338.0V428.86H338.5V428.81H339.0V429.09H339.5V428.99H340.0V429.00H340.5V428.90H341.0V428.92H341.5V428.99H342.0V429.10H342.5V430.00ZM343.0,430.00V428.86H343.5V428.76H344.0V428.95H344.5V428.72H345.0V428.97H345.5V428.88H346.0V428.95H346.5V428.80H347.0V428.86H347.5V428.90H348.0V428.92H348.5V428.81H349.0V428.76H349.5V428.92H350.0V428.53H350.5V428.90H351.0V428.79H351.5V428.80H352.0V428.78H352.5V428.85H353.0V428.64H353.5V428.53H354.0V428.81H354.5V428.95H355.0V428.92H355.5V429.05H356.0V429.01H356.5V428.89H357.0V428.94H357.5V428.86H358.0V428.70H358.5V428.98H359.0V428.82H359.5V428.77H360.0V428.86H360.5V430.00ZM361.0,430.00V428.74H361.5V428.73H362.0V428.66H362.5V428.76H363.0V429.07H363.5V428.80H364.0V429.01H364.5V429.06H365.0V428.95H365.5V428.92H366.0V428.91H366.5V428.83H367.0V429.04H367.5V429.02H368.0V428.98H368.5V428.86H369.0V429.19H369.5V429.37H370.0V429.33H370.5V429.07H371.0V428.86H371.5V429.20H372.0V429.08H372.5V428.84H373.0V428.73H373.5V428.90H374.0V428.69H374.5V428.74H375.0V428.76H375.5V428.94H376.0V429.09H376.5V429.17H377.0V428.91H377.5V428.58H378.0V428.80H378.5V428.49H379.0V430.00ZM380.0,430.00V428.52H380.5V428.70H381.0V428.74H381.5V428.82H382.0V428.97H382.5V428.93H383.0V429.17H383.5V428.95H384.0V429.36H384.5V429.05H385.0V428.95H385.5V428.71H386.0V428.89H386.5V428.93H387.0V429.12H387.5V429.11H388.0V429.14H388.5V429.14H389.0V429.07H389.5V430.00ZM390.0,430.00V428.92H390.5V428.81H391.0V428.77H391.5V428.73H392.0V428.71H392.5V428.60H393.0V430.00ZM394.0,430.00V428.63H394.5V428.65H395.0V428.70H395.5V428.76H396.0V428.76H396.5V428.99H397.0V428.92H397.5V428.86H398.0V428.98H398.5V428.73H399.0V428.98H399.5V429.02H400.0V429.08H400.5V429.14H401.0V430.00ZM401.5,430.00V428.85H402.0V428.77H402.5V429.09H403.0V428.74H403.5V428.72H404.0V428.95H404.5V428.66H405.0V428.94H405.5V428.97H406.0V428.93H406.5V430.00ZM407.0,430.00V429.14H407.5V428.72H408.0V429.00H408.5V428.99H409.0V428.89H409.5V429.25H410.0V429.00H410.5V429.12H411.0V429.09H411.5V429.01H412.0V428.99H412.5V429.01H413.0V429.25H413.5V429.05H414.0V428.77H414.5V428.81H415.0V430.00ZM415.5,430.00V428.66H416.0V429.00H416.5V428.84H417.0V428.91H417.5V428.64H418.0V428.72H418.5V428.91H419.0V429.00H419.5V428.92H420.0V428.88H420.5V428.86H421.0V430.00ZM421.5,430.00V428.89H422.0V428.78H422.5V428.95H423.0V428.96H423.5V428.89H424.0V428.82H424.5V428.99H425.0V428.68H425.5V428.49H426.0V428.67H426.5V428.90H427.0V429.07H427.5V429.18H428.0V428.90H428.5V428.91H429.0V429.06H429.5V428.90H430.0V428.71H430.5V430.00ZM431.0,430.00V428.77H431.5V428.86H432.0V429.02H432.5V428.63H433.0V428.61H433.5V428.64H434.0V428.68H434.5V428.71H435.0V428.91H435.5V428.73H436.0V430.00ZM436.5,430.00V429.16H437.0V429.02H437.5V429.02H438.0V428.80H438.5V428.46H439.0V428.66H439.5V428.67H440.0V429.06H440.5V429.16H441.0V429.06H441.5V429.02H442.0V429.16H442.5V428.87H443.0V428.75H443.5V430.00ZM444.0,430.00V428.65H444.5V428.93H445.0V428.63H445.5V428.80H446.0V428.78H446.5V428.54H447.0V428.62H447.5V428.96H448.0V429.00H448.5V428.98H449.0V430.00ZM449.5,430.00V429.13H450.0V429.14H450.5V429.00H451.0V430.00ZM451.5,430.00V428.99H452.0V428.81H452.5V429.05H453.0V428.98H453.5V429.07H454.0V429.17H454.5V429.12H455.0V429.02H455.5V428.72H456.0V428.88H456.5V429.03H457.0V428.96H457.5V429.00H458.0V429.00H458.5V428.90H459.0V428.94H459.5V428.90H460.0V428.91H460.5V428.93H461.0V429.13H461.5V429.13H462.0V429.03H462.5V429.08H463.0V429.11H463.5V428.82H464.0V428.80H464.5V429.01H465.0V428.87H465.5V430.00ZM466.0,430.00V428.86H466.5V429.04H467.0V428.75H467.5V429.01H468.0V428.86H468.5V428.84H469.0V428.51H469.5V428.56H470.0V428.78H470.5V428.75H471.0V428.98H471.5V428.66H472.0V428.95H472.5V429.01H473.0V429.02H473.5V429.07H474.0V428.78H474.5V428.73H475.0V430.00ZM476.5,430.00V428.95H477.0V428.98H477.5V428.78H478.0V428.48H478.5V428.53H479.0V430.00ZM479.5,430.00V428.57H480.0V428.98H480.5V428.73H481.0V428.50H481.5V428.21H482.0V428.18H482.5V428.36H483.0V428.65H483.5V428.42H484.0V428.93H484.5V428.98H485.0V428.60H485.5V428.51H486.0V428.39H486.5V428.41H487.0V428.46H487.5V428.61H488.0V428.97H488.5V428.95H489.0V428.91H489.5V428.81H490.0V428.37H490.5V428.61H491.0V430.00ZM491.5,430.00V428.82H492.0V428.80H492.5V428.81H493.0V428.52H493.5V428.69H494.0V428.55H494.5V428.78H495.0V428.55H495.5V428.57H496.0V428.94H496.5V430.00ZM497.0,430.00V425.73H497.5V430.00ZM498.0,430.00V425.58H498.5V425.50H499.0V430.00ZM499.5,430.00V425.85H500.0V424.86H500.5V425.56H501.0V425.55H501.5V424.75H502.0V426.10H502.5V430.00ZM503.0,430.00V424.96H503.5V423.00H504.0V423.64H504.5V425.80H505.0V425.72H505.5V425.51H506.0V430.00ZM506.5,430.00V425.32H507.0V424.79H507.5V424.41H508.0V424.21H508.5V424.68H509.0V424.29H509.5V424.85H510.0V427.76H510.5V428.01H511.0V427.63H511.5V427.32H512.0V427.53H512.5V427.77H513.0V427.32H513.5V427.51H514.0V430.00Z" fill="#2d449f" stroke="none" stroke-width="1" />
<path d="M80.0,440.50V439.63H80.8V440.50ZM81.6,440.50V439.88H82.4V439.96H83.2V440.09H84.0V440.50ZM84.8,440.50V439.96H85.6V439.73H86.4V439.75H87.2V439.83H88.0V439.78H88.8V440.50ZM89.6,440.50V439.69H90.4V440.50ZM91.2,440.50V440.00H92.0V439.90H92.8V440.50ZM93.6,440.50V439.85H94.4V440.50ZM95.2,440.50V439.89H96.0V439.86H96.8V439.99H97.6V439.77H98.4V439.96H99.2V440.50ZM100.8,440.50V439.63H101.6V439.80H102.4V439.89H103.2V439.86H104.0V440.50ZM104.8,440.50V439.83H105.6V440.50ZM106.4,440.50V439.70H107.2V440.50ZM108.0,440.50V439.80H108.8V439.80H109.6V439.81H110.4V439.75H111.2V439.80H112.0V439.76H112.8V439.70H113.6V439.54H114.4V439.57H115.2V440.50ZM118.4,440.50V440.06H119.2V439.81H120.0V439.70H120.8V440.50ZM121.6,440.50V439.95H122.4V440.50ZM123.2,440.50V439.98H124.0V440.50ZM125.6,440.50V439.72H126.4V440.50ZM128.0,440.50V439.72H128.8V439.69H129.6V439.95H130.4V439.79H131.2V440.50ZM132.0,440.50V439.72H132.8V440.50ZM133.6,440.50V439.75H134.4V439.81H135.2V440.50ZM136.0,440.50V439.77H136.8V440.50ZM137.6,440.50V439.99H138.4V439.78H139.2V440.50ZM140.0,440.50V439.63H140.8V440.50ZM141.6,440.50V439.72H142.4V439.73H143.2V440.50ZM145.6,440.50V439.71H146.4V439.86H147.2V439.97H148.0V440.00H148.8V440.00H149.6V440.50ZM150.4,440.50V439.81H151.2V440.50ZM152.0,440.50V440.01H152.8V440.50ZM154.4,440.50V439.99H155.2V440.50ZM156.8,440.50V439.69H157.6V439.89H158.4V439.97H159.2V439.96H160.0V440.50ZM160.8,440.50V439.92H161.6V439.79H162.4V440.50ZM164.0,440.50V439.99H164.8V440.50ZM168.0,440.50V439.89H168.8V439.84H169.6V439.76H170.4V439.69H171.2V439.72H172.0V439.71H172.8V440.50ZM173.6,440.50V439.85H174.4V439.90H175.2V439.77H176.0V439.80H176.8V439.89H177.6V439.78H178.4V439.85H179.2V439.91H180.0V440.50ZM182.4,440.50V439.85H183.2V440.50ZM184.8,440.50V439.84H185.6V440.50ZM187.2,440.50V439.91H188.0V439.78H188.8V439.81H189.6V439.69H190.4V440.50ZM192.0,440.50V439.77H192.8V439.69H193.6V440.50ZM194.4,440.50V439.56H195.2V440.50ZM196.0,440.50V439.62H196.8V439.68H197.6V440.50ZM199.2,440.50V439.90H200.0V440.50ZM200.8,440.50V439.60H201.6V440.50ZM202.4,440.50V439.79H203.2V439.95H204.0V440.50ZM206.4,440.50V439.62H207.2V440.50ZM208.0,440.50V439.78H208.8V439.86H209.6V440.04H210.4V439.73H211.2V439.50H212.0V439.85H212.8V439.93H213.6V439.80H214.4V440.50ZM216.8,440.50V439.67H217.6V439.66H218.4V439.77H219.2V440.50ZM220.0,440.50V439.92H220.8V440.50ZM221.6,440.50V439.86H222.4V439.89H223.2V440.07H224.0V440.50ZM224.8,440.50V439.81H225.6V439.86H226.4V439.79H227.2V439.73H228.0V439.72H228.8V439.87H229.6V439.89H230.4V439.73H231.2V439.71H232.0V439.76H232.8V439.82H233.6V439.87H234.4V439.91H235.2V439.65H236.0V439.66H236.8V440.50ZM238.4,440.50V439.73H239.2V440.50ZM240.0,440.50V439.72H240.8V440.50ZM241.6,440.50V439.74H242.4V439.80H243.2V439.76H244.0V439.86H244.8V439.85H245.6V440.50ZM246.4,440.50V439.85H247.2V439.81H248.0V440.50ZM248.8,440.50V439.76H249.6V440.50ZM250.4,440.50V439.71H251.2V440.50ZM252.8,440.50V439.71H253.6V439.67H254.4V439.68H255.2V439.67H256.0V440.50ZM257.6,440.50V439.78H258.4V440.50ZM259.2,440.50V439.77H260.0V439.91H260.8V440.50ZM261.6,440.50V439.88H262.4V439.88H263.2V439.88H264.0V439.73H264.8V439.83H265.6V440.50ZM267.2,440.50V439.85H268.0V440.50ZM268.8,440.50V439.70H269.6V440.50ZM270.4,440.50V439.69H271.2V440.50ZM272.0,440.50V439.89H272.8V440.50ZM277.6,440.50V440.00H278.4V439.91H279.2V440.50ZM280.8,440.50V439.95H281.6V440.50ZM283.2,440.50V439.55H284.0V439.61H284.8V440.50ZM285.6,440.50V439.55H286.4V440.50ZM287.2,440.50V439.85H288.0V439.97H288.8V439.88H289.6V439.79H290.4V440.50ZM292.0,440.50V439.88H292.8V439.77H293.6V440.50ZM295.2,440.50V439.77H296.0V439.88H296.8V439.84H297.6V439.66H298.4V439.83H299.2V439.85H300.0V439.73H300.8V440.50ZM301.6,440.50V439.74H302.4V439.79H303.2V439.63H304.0V440.50ZM305.6,440.50V439.92H306.4V439.90H307.2V439.92H308.0V440.50ZM308.8,440.50V439.74H309.6V440.50ZM310.4,440.50V439.51H311.2V439.70H312.0V440.02H312.8V439.69H313.6V439.79H314.4V439.68H315.2V439.61H316.0V439.69H316.8V439.71H317.6V439.89H318.4V439.98H319.2V439.90H320.0V440.50ZM320.8,440.50V440.05H321.6V440.06H322.4V439.76H323.2V439.66H324.0V440.50ZM324.8,440.50V439.96H325.6V439.72H326.4V440.50ZM327.2,440.50V439.93H328.0V439.88H328.8V440.50ZM329.6,440.50V439.65H330.4V440.50ZM331.2,440.50V439.94H332.0V440.50ZM333.6,440.50V439.87H334.4V439.78H335.2V440.50ZM336.0,440.50V439.67H336.8V440.50ZM339.2,440.50V439.69H340.0V439.94H340.8V440.50ZM341.6,440.50V439.96H342.4V439.82H343.2V439.76H344.0V440.50ZM345.6,440.50V439.84H346.4V439.88H347.2V439.72H348.0V440.50ZM349.6,440.50V439.81H350.4V440.01H351.2V439.92H352.0V439.79H352.8V440.50ZM355.2,440.50V439.65H356.0V440.50ZM356.8,440.50V439.87H357.6V439.71H358.4V439.97H359.2V439.68H360.0V439.64H360.8V440.50ZM361.6,440.50V439.87H362.4V439.70H363.2V440.50ZM364.8,440.50V439.75H365.6V439.75H366.4V440.50ZM367.2,440.50V439.75H368.0V439.78H368.8V440.50ZM369.6,440.50V439.73H370.4V439.71H371.2V439.81H372.0V439.95H372.8V439.63H373.6V440.50ZM376.0,440.50V439.82H376.8V439.78H377.6V439.77H378.4V439.77H379.2V440.50ZM380.0,440.50V439.69H380.8V439.82H381.6V439.89H382.4V439.91H383.2V440.50ZM385.6,440.50V440.02H386.4V440.50ZM387.2,440.50V439.85H388.0V439.83H388.8V440.50ZM389.6,440.50V439.81H390.4V440.50ZM392.8,440.50V439.84H393.6V439.68H394.4V440.50ZM396.0,440.50V439.76H396.8V440.50ZM397.6,440.50V439.72H398.4V439.61H399.2V439.82H400.0V439.93H400.8V440.50ZM401.6,440.50V439.94H402.4V439.94H403.2V439.97H404.0V439.87H404.8V439.97H405.6V440.50ZM406.4,440.50V439.68H407.2V439.54H408.0V440.50ZM408.8,440.50V439.73H409.6V440.02H410.4V440.50ZM411.2,440.50V439.90H412.0V440.50ZM413.6,440.50V439.88H414.4V439.75H415.2V439.85H416.0V439.82H416.8V439.65H417.6V439.60H418.4V440.50ZM420.0,440.50V439.77H420.8V439.95H421.6V440.50ZM424.0,440.50V439.86H424.8V440.50ZM425.6,440.50V439.92H426.4V440.50ZM427.2,440.50V439.89H428.0V440.50ZM428.8,440.50V439.91H429.6V439.93H430.4V439.80H431.2V440.50ZM432.0,440.50V439.86H432.8V439.81H433.6V440.50ZM435.2,440.50V439.98H436.0V440.50ZM436.8,440.50V439.97H437.6V440.50ZM438.4,440.50V439.95H439.2V440.00H440.0V439.98H440.8V439.70H441.6V440.50ZM443.2,440.50V439.83H444.0V439.77H444.8V440.50ZM445.6,440.50V439.80H446.4V440.00H447.2V440.50ZM448.0,440.50V439.71H448.8V440.50ZM450.4,440.50V439.78H451.2V439.78H452.0V440.50ZM453.6,440.50V439.94H454.4V439.94H455.2V440.50ZM457.6,440.50V439.80H458.4V440.50ZM460.8,440.50V439.85H461.6V439.66H462.4V440.50ZM464.0,440.50V440.08H464.8V439.92H465.6V439.86H466.4V440.50ZM467.2,440.50V439.80H468.0V440.50ZM469.6,440.50V439.90H470.4V440.50ZM471.2,440.50V439.77H472.0V440.03H472.8V440.50ZM476.0,440.50V439.90H476.8V440.50ZM478.4,440.50V439.83H479.2V440.50ZM482.4,440.50V439.72H483.2V439.93H484.0V439.75H484.8V439.65H485.6V439.84H486.4V439.69H487.2V440.50ZM488.0,440.50V439.88H488.8V439.89H489.6V440.50ZM490.4,440.50V439.86H491.2V439.92H492.0V439.81H492.8V440.50ZM493.6,440.50V439.86H494.4V440.02H495.2V440.50ZM496.0,440.50V439.41H496.8V439.11H497.6V439.07H498.4V440.50ZM500.0,440.50V439.26H500.8V439.18H501.6V439.00H502.4V440.50ZM504.8,440.50V439.40H505.6V439.46H506.4V440.50ZM507.2,440.50V439.84H508.0V440.50ZM509.6,440.50V439.77H510.4V440.50ZM511.2,440.50V439.86H512.0V440.50Z" fill="#5a64ad" stroke="none" stroke-width="1" fill-opacity="0.55"/>
<path d="M81.6,450.00V449.55H82.4V450.00ZM84.0,450.00V449.40H84.8V449.33H85.6V450.00ZM87.2,450.00V449.43H88.0V449.45H88.8V450.00ZM89.6,450.00V449.43H90.4V450.00ZM91.2,450.00V449.05H92.0V449.14H92.8V450.00ZM95.2,450.00V449.14H96.0V450.00ZM96.8,450.00V449.19H97.6V450.00ZM98.4,450.00V449.31H99.2V450.00ZM100.0,450.00V449.29H100.8V449.11H101.6V450.00ZM107.2,450.00V449.29H108.0V450.00ZM109.6,450.00V449.49H110.4V450.00ZM112.8,450.00V449.37H113.6V450.00ZM114.4,450.00V449.08H115.2V449.12H116.0V450.00ZM118.4,450.00V449.38H119.2V450.00ZM120.8,450.00V449.43H121.6V450.00ZM122.4,450.00V449.24H123.2V450.00ZM124.8,450.00V449.13H125.6V450.00ZM129.6,450.00V449.20H130.4V449.32H131.2V450.00ZM132.0,450.00V449.42H132.8V450.00ZM134.4,450.00V449.17H135.2V449.15H136.0V449.22H136.8V450.00ZM140.0,450.00V449.20H140.8V450.00ZM141.6,450.00V449.28H142.4V449.31H143.2V450.00ZM151.2,450.00V449.37H152.0V450.00ZM153.6,450.00V449.33H154.4V449.38H155.2V450.00ZM156.0,450.00V449.31H156.8V450.00ZM167.2,450.00V449.19H168.0V450.00ZM169.6,450.00V449.26H170.4V449.12H171.2V449.14H172.0V450.00ZM176.0,450.00V449.12H176.8V449.13H177.6V450.00ZM178.4,450.00V449.35H179.2V450.00ZM180.8,450.00V449.28H181.6V449.41H182.4V450.00ZM187.2,450.00V449.33H188.0V450.00ZM191.2,450.00V449.38H192.0V449.21H192.8V450.00ZM196.0,450.00V449.06H196.8V450.00ZM198.4,450.00V449.22H199.2V450.00ZM201.6,450.00V449.22H202.4V449.48H203.2V450.00ZM204.8,450.00V449.41H205.6V450.00ZM206.4,450.00V449.27H207.2V450.00ZM208.0,450.00V449.19H208.8V449.04H209.6V449.19H210.4V450.00ZM212.8,450.00V449.25H213.6V449.34H214.4V450.00ZM216.8,450.00V449.28H217.6V450.00ZM218.4,450.00V449.20H219.2V450.00ZM224.8,450.00V449.26H225.6V449.22H226.4V449.30H227.2V449.47H228.0V450.00ZM229.6,450.00V449.38H230.4V450.00ZM231.2,450.00V449.42H232.0V449.44H232.8V450.00ZM233.6,450.00V449.33H234.4V450.00ZM237.6,450.00V449.45H238.4V450.00ZM242.4,450.00V449.43H243.2V449.34H244.0V449.41H244.8V450.00ZM245.6,450.00V449.37H246.4V450.00ZM249.6,450.00V449.32H250.4V449.44H251.2V450.00ZM253.6,450.00V449.46H254.4V450.00ZM256.0,450.00V449.55H256.8V449.46H257.6V449.23H258.4V450.00ZM260.8,450.00V449.31H261.6V450.00ZM262.4,450.00V449.40H263.2V449.43H264.0V450.00ZM267.2,450.00V449.30H268.0V450.00ZM270.4,450.00V449.42H271.2V449.46H272.0V449.34H272.8V450.00ZM273.6,450.00V449.05H274.4V450.00ZM276.0,450.00V449.40H276.8V449.25H277.6V449.23H278.4V449.10H279.2V450.00ZM280.8,450.00V449.23H281.6V450.00ZM282.4,450.00V449.35H283.2V450.00ZM284.8,450.00V449.35H285.6V450.00ZM286.4,450.00V449.30H287.2V450.00ZM288.0,450.00V449.33H288.8V449.28H289.6V450.00ZM290.4,450.00V449.18H291.2V450.00ZM294.4,450.00V449.30H295.2V450.00ZM300.8,450.00V449.24H301.6V450.00ZM302.4,450.00V449.59H303.2V449.34H304.0V450.00ZM306.4,450.00V449.41H307.2V449.24H308.0V449.37H308.8V450.00ZM310.4,450.00V449.34H311.2V450.00ZM313.6,450.00V449.41H314.4V449.45H315.2V449.49H316.0V449.52H316.8V450.00ZM318.4,450.00V449.20H319.2V450.00ZM320.0,450.00V449.47H320.8V449.18H321.6V449.21H322.4V450.00ZM324.0,450.00V449.06H324.8V449.07H325.6V449.15H326.4V449.19H327.2V450.00ZM329.6,450.00V449.37H330.4V449.35H331.2V449.19H332.0V449.30H332.8V450.00ZM334.4,450.00V449.49H335.2V450.00ZM336.0,450.00V449.26H336.8V450.00ZM338.4,450.00V449.11H339.2V449.15H340.0V450.00ZM344.8,450.00V449.28H345.6V449.26H346.4V450.00ZM348.0,450.00V449.36H348.8V450.00ZM350.4,450.00V449.22H351.2V450.00ZM352.0,450.00V449.27H352.8V450.00ZM355.2,450.00V449.26H356.0V449.21H356.8V449.45H357.6V450.00ZM359.2,450.00V449.23H360.0V449.21H360.8V449.38H361.6V449.36H362.4V450.00ZM364.8,450.00V449.24H365.6V450.00ZM366.4,450.00V449.35H367.2V450.00ZM368.0,450.00V449.33H368.8V450.00ZM371.2,450.00V449.38H372.0V450.00ZM374.4,450.00V449.29H375.2V450.00ZM377.6,450.00V449.22H378.4V449.32H379.2V450.00ZM380.0,450.00V449.33H380.8V449.11H381.6V449.14H382.4V449.26H383.2V450.00ZM389.6,450.00V449.09H390.4V449.19H391.2V450.00ZM392.8,450.00V449.33H393.6V450.00ZM396.8,450.00V449.18H397.6V449.21H398.4V449.22H399.2V449.40H400.0V449.46H400.8V449.39H401.6V450.00ZM404.0,450.00V449.48H404.8V450.00ZM407.2,450.00V449.29H408.0V450.00ZM408.8,450.00V449.38H409.6V449.61H410.4V450.00ZM412.0,450.00V449.31H412.8V450.00ZM414.4,450.00V449.24H415.2V450.00ZM416.0,450.00V449.51H416.8V450.00ZM419.2,450.00V449.36H420.0V450.00ZM423.2,450.00V449.19H424.0V450.00ZM428.0,450.00V449.15H428.8V450.00ZM433.6,450.00V449.39H434.4V449.37H435.2V449.37H436.0V450.00ZM437.6,450.00V449.30H438.4V450.00ZM439.2,450.00V449.33H440.0V449.56H440.8V449.20H441.6V450.00ZM442.4,450.00V449.33H443.2V449.29H444.0V449.53H444.8V450.00ZM448.0,450.00V449.13H448.8V450.00ZM450.4,450.00V449.25H451.2V450.00ZM452.0,450.00V449.31H452.8V450.00ZM453.6,450.00V449.11H454.4V450.00ZM456.0,450.00V449.01H456.8V449.08H457.6V449.21H458.4V449.20H459.2V449.36H460.0V449.29H460.8V449.22H461.6V449.45H462.4V450.00ZM465.6,450.00V449.22H466.4V450.00ZM469.6,450.00V449.43H470.4V449.34H471.2V450.00ZM472.8,450.00V449.32H473.6V450.00ZM476.8,450.00V449.38H477.6V450.00ZM480.8,450.00V449.18H481.6V450.00ZM483.2,450.00V449.09H484.0V449.20H484.8V449.24H485.6V449.11H486.4V450.00ZM488.0,450.00V449.15H488.8V450.00ZM489.6,450.00V449.04H490.4V449.10H491.2V449.36H492.0V450.00ZM492.8,450.00V449.36H493.6V449.24H494.4V450.00ZM495.2,450.00V449.46H496.0V450.00ZM497.6,450.00V449.44H498.4V450.00ZM500.0,450.00V449.36H500.8V450.00ZM502.4,450.00V449.42H503.2V450.00ZM506.4,450.00V449.38H507.2V450.00Z" fill="#8a5a9c" stroke="none" stroke-width="1" fill-opacity="0.4"/>
<path d="M81.8,450.00h0.8v-1.08h-0.8zM98.7,450.00h0.8v-1.46h-0.8zM101.3,450.00h0.8v-1.15h-0.8zM111.7,450.00h0.8v-1.31h-0.8zM119.5,450.00h0.8v-1.25h-0.8zM123.4,450.00h0.8v-1.02h-0.8zM129.9,450.00h0.8v-1.42h-0.8zM135.1,450.00h0.8v-1.36h-0.8zM148.1,450.00h0.8v-1.17h-0.8zM155.9,450.00h0.8v-1.19h-0.8zM161.1,450.00h0.8v-1.42h-0.8zM163.7,450.00h0.8v-1.27h-0.8zM187.1,450.00h0.8v-1.05h-0.8zM204.0,450.00h0.8v-1.32h-0.8zM207.9,450.00h0.8v-1.09h-0.8zM211.8,450.00h0.8v-1.00h-0.8zM214.4,450.00h0.8v-1.26h-0.8zM230.0,450.00h0.8v-1.35h-0.8zM237.8,450.00h0.8v-1.15h-0.8zM243.0,450.00h0.8v-1.22h-0.8zM278.1,450.00h0.8v-1.11h-0.8zM279.4,450.00h0.8v-1.02h-0.8zM282.0,450.00h0.8v-1.28h-0.8zM297.6,450.00h0.8v-1.21h-0.8zM318.4,450.00h0.8v-1.32h-0.8zM347.0,450.00h0.8v-1.17h-0.8zM352.2,450.00h0.8v-1.01h-0.8zM361.3,450.00h0.8v-1.19h-0.8zM388.6,450.00h0.8v-1.17h-0.8zM400.3,450.00h0.8v-1.21h-0.8zM409.4,450.00h0.8v-1.08h-0.8zM415.9,450.00h0.8v-0.96h-0.8zM447.1,450.00h0.8v-1.50h-0.8zM449.7,450.00h0.8v-1.17h-0.8zM452.3,450.00h0.8v-1.43h-0.8zM454.9,450.00h0.8v-1.09h-0.8zM461.4,450.00h0.8v-1.19h-0.8zM465.3,450.00h0.8v-1.30h-0.8zM466.6,450.00h0.8v-1.26h-0.8zM496.5,450.00h0.8v-1.16h-0.8zM509.5,450.00h0.8v-1.38h-0.8z" fill="#6e2a8c" stroke="none" stroke-width="1" fill-opacity="0.6"/>
<path d="M503.2,450 L503.6,442.4 L504.7,442.4 L505.2,450 Z" fill="#6e2a8c" stroke="none" stroke-width="1" />
<path d="M499.5,450 h1.2 v-1.2 h-1.2 z" fill="#6e2a8c" stroke="none" stroke-width="1" />
<path d="M80.0,460.40V459.94H80.8V460.40ZM81.6,460.40V459.86H82.4V460.40ZM84.0,460.40V459.74H84.8V459.79H85.6V459.92H86.4V460.40ZM91.2,460.40V459.96H92.0V460.40ZM92.8,460.40V459.68H93.6V459.75H94.4V460.40ZM96.8,460.40V459.79H97.6V459.73H98.4V460.40ZM105.6,460.40V459.80H106.4V460.40ZM107.2,460.40V459.79H108.0V460.40ZM110.4,460.40V459.81H111.2V460.40ZM113.6,460.40V460.02H114.4V460.40ZM117.6,460.40V459.76H118.4V460.40ZM123.2,460.40V459.63H124.0V460.40ZM125.6,460.40V459.81H126.4V460.40ZM128.0,460.40V459.83H128.8V460.40ZM129.6,460.40V459.61H130.4V459.63H131.2V459.75H132.0V460.40ZM132.8,460.40V459.81H133.6V459.90H134.4V460.40ZM135.2,460.40V459.90H136.0V460.40ZM140.0,460.40V459.85H140.8V459.66H141.6V460.40ZM142.4,460.40V459.86H143.2V460.40ZM145.6,460.40V459.84H146.4V459.83H147.2V460.40ZM148.0,460.40V459.97H148.8V460.40ZM151.2,460.40V459.96H152.0V459.73H152.8V459.79H153.6V459.89H154.4V460.40ZM156.8,460.40V459.83H157.6V460.40ZM160.0,460.40V459.68H160.8V460.40ZM162.4,460.40V459.88H163.2V460.40ZM165.6,460.40V459.80H166.4V459.85H167.2V460.40ZM172.0,460.40V459.86H172.8V459.80H173.6V460.40ZM178.4,460.40V459.76H179.2V459.71H180.0V459.56H180.8V460.40ZM181.6,460.40V459.72H182.4V460.40ZM184.8,460.40V459.72H185.6V460.40ZM186.4,460.40V459.71H187.2V460.40ZM192.8,460.40V459.78H193.6V460.40ZM194.4,460.40V459.73H195.2V459.93H196.0V460.40ZM199.2,460.40V459.67H200.0V460.40ZM200.8,460.40V459.84H201.6V460.40ZM204.0,460.40V459.87H204.8V460.40ZM205.6,460.40V459.93H206.4V460.40ZM207.2,460.40V459.92H208.0V460.40ZM215.2,460.40V459.69H216.0V460.40ZM216.8,460.40V459.78H217.6V460.40ZM218.4,460.40V459.83H219.2V460.40ZM220.0,460.40V459.88H220.8V460.40ZM224.8,460.40V459.69H225.6V460.40ZM228.8,460.40V459.78H229.6V460.40ZM231.2,460.40V459.85H232.0V460.40ZM236.8,460.40V459.65H237.6V460.40ZM240.8,460.40V459.82H241.6V460.40ZM242.4,460.40V459.90H243.2V460.40ZM244.8,460.40V459.94H245.6V460.40ZM248.0,460.40V459.84H248.8V460.40ZM249.6,460.40V459.84H250.4V459.68H251.2V459.62H252.0V459.62H252.8V460.40ZM253.6,460.40V459.64H254.4V460.40ZM256.0,460.40V459.82H256.8V460.40ZM261.6,460.40V459.85H262.4V460.40ZM263.2,460.40V459.69H264.0V460.40ZM267.2,460.40V459.79H268.0V459.90H268.8V460.40ZM272.0,460.40V459.87H272.8V459.94H273.6V460.40ZM275.2,460.40V459.87H276.0V460.40ZM277.6,460.40V459.81H278.4V460.40ZM280.8,460.40V459.88H281.6V460.40ZM282.4,460.40V459.79H283.2V460.40ZM285.6,460.40V459.91H286.4V460.40ZM287.2,460.40V459.93H288.0V459.91H288.8V460.40ZM289.6,460.40V459.98H290.4V460.02H291.2V460.40ZM296.0,460.40V459.88H296.8V460.40ZM299.2,460.40V459.92H300.0V459.91H300.8V460.40ZM303.2,460.40V459.76H304.0V460.40ZM317.6,460.40V459.92H318.4V460.40ZM319.2,460.40V459.88H320.0V460.40ZM323.2,460.40V459.96H324.0V460.40ZM326.4,460.40V459.81H327.2V460.40ZM328.0,460.40V459.84H328.8V460.40ZM329.6,460.40V459.97H330.4V460.40ZM333.6,460.40V459.80H334.4V460.40ZM335.2,460.40V459.76H336.0V460.40ZM336.8,460.40V459.72H337.6V460.40ZM338.4,460.40V459.93H339.2V460.40ZM340.0,460.40V459.85H340.8V460.40ZM343.2,460.40V459.84H344.0V459.73H344.8V460.40ZM345.6,460.40V459.78H346.4V460.40ZM347.2,460.40V459.90H348.0V460.40ZM350.4,460.40V459.73H351.2V460.40ZM354.4,460.40V459.78H355.2V460.40ZM360.8,460.40V459.89H361.6V460.40ZM363.2,460.40V459.85H364.0V460.40ZM364.8,460.40V459.70H365.6V460.40ZM367.2,460.40V459.81H368.0V460.40ZM368.8,460.40V459.82H369.6V460.40ZM372.0,460.40V459.79H372.8V459.83H373.6V459.77H374.4V459.83H375.2V460.40ZM376.8,460.40V459.91H377.6V459.81H378.4V459.78H379.2V460.40ZM380.0,460.40V459.63H380.8V460.40ZM381.6,460.40V459.67H382.4V460.40ZM384.8,460.40V459.84H385.6V460.40ZM387.2,460.40V459.77H388.0V459.75H388.8V460.40ZM396.0,460.40V459.79H396.8V459.70H397.6V459.80H398.4V460.40ZM401.6,460.40V459.82H402.4V460.40ZM404.0,460.40V459.79H404.8V459.77H405.6V460.40ZM406.4,460.40V460.05H407.2V460.40ZM413.6,460.40V459.85H414.4V460.40ZM416.8,460.40V459.85H417.6V460.40ZM418.4,460.40V459.97H419.2V460.40ZM420.8,460.40V459.89H421.6V460.40ZM422.4,460.40V459.95H423.2V460.40ZM424.0,460.40V459.65H424.8V460.40ZM428.0,460.40V459.72H428.8V459.85H429.6V460.40ZM431.2,460.40V459.66H432.0V460.40ZM434.4,460.40V459.88H435.2V460.40ZM436.0,460.40V459.90H436.8V460.40ZM437.6,460.40V459.90H438.4V460.40ZM443.2,460.40V459.70H444.0V460.40ZM444.8,460.40V459.71H445.6V460.40ZM446.4,460.40V459.68H447.2V459.78H448.0V459.80H448.8V460.40ZM452.0,460.40V459.95H452.8V460.40ZM453.6,460.40V459.97H454.4V459.91H455.2V460.40ZM456.0,460.40V459.99H456.8V459.99H457.6V460.40ZM459.2,460.40V459.80H460.0V460.40ZM464.0,460.40V459.71H464.8V460.40ZM466.4,460.40V459.78H467.2V459.73H468.0V460.40ZM469.6,460.40V459.73H470.4V460.40ZM472.0,460.40V459.72H472.8V460.40ZM477.6,460.40V459.72H478.4V460.40ZM479.2,460.40V459.80H480.0V460.40ZM481.6,460.40V459.97H482.4V459.70H483.2V460.40ZM484.8,460.40V459.66H485.6V460.40ZM489.6,460.40V459.98H490.4V459.90H491.2V459.81H492.0V459.80H492.8V460.40ZM493.6,460.40V459.86H494.4V459.89H495.2V460.40ZM506.4,460.40V459.75H507.2V460.40ZM508.0,460.40V459.86H508.8V460.40ZM509.6,460.40V459.93H510.4V460.40Z" fill="#a09aa8" stroke="none" stroke-width="1" fill-opacity="0.45"/>
<path d="M101.3,460.40h0.8v-0.90h-0.8zM110.4,460.40h0.8v-0.90h-0.8zM135.1,460.40h0.8v-0.90h-0.8zM141.6,460.40h0.8v-0.90h-0.8zM153.3,460.40h0.8v-0.90h-0.8zM232.6,460.40h0.8v-0.90h-0.8zM240.4,460.40h0.8v-0.90h-0.8zM252.1,460.40h0.8v-0.90h-0.8zM262.5,460.40h0.8v-0.90h-0.8zM284.6,460.40h0.8v-0.90h-0.8zM350.9,460.40h0.8v-0.90h-0.8zM380.8,460.40h0.8v-0.90h-0.8zM428.9,460.40h0.8v-0.90h-0.8zM490.0,460.40h0.8v-0.90h-0.8z" fill="#7a5a8a" stroke="none" stroke-width="1" fill-opacity="0.6"/>
<path d="M80.0,470.40V469.48H80.8V469.66H81.6V470.40ZM82.4,470.40V469.82H83.2V470.40ZM84.0,470.40V469.60H84.8V470.40ZM88.8,470.40V469.92H89.6V470.40ZM91.2,470.40V469.89H92.0V469.83H92.8V469.74H93.6V470.40ZM97.6,470.40V469.89H98.4V469.84H99.2V470.40ZM100.0,470.40V469.85H100.8V470.40ZM102.4,470.40V469.61H103.2V470.40ZM105.6,470.40V469.64H106.4V470.40ZM109.6,470.40V469.58H110.4V470.40ZM113.6,470.40V469.78H114.4V469.92H115.2V470.40ZM116.0,470.40V469.75H116.8V470.40ZM117.6,470.40V469.78H118.4V469.71H119.2V470.40ZM121.6,470.40V469.56H122.4V470.40ZM124.0,470.40V469.84H124.8V470.40ZM128.0,470.40V469.54H128.8V470.40ZM129.6,470.40V469.73H130.4V469.73H131.2V470.40ZM132.0,470.40V469.71H132.8V469.79H133.6V470.40ZM134.4,470.40V469.61H135.2V470.40ZM136.8,470.40V469.85H137.6V469.73H138.4V469.69H139.2V469.64H140.0V470.40ZM147.2,470.40V469.70H148.0V470.40ZM151.2,470.40V469.87H152.0V469.72H152.8V469.72H153.6V470.40ZM156.0,470.40V469.84H156.8V470.40ZM158.4,470.40V469.89H159.2V470.40ZM160.0,470.40V469.80H160.8V469.63H161.6V470.40ZM162.4,470.40V469.68H163.2V470.40ZM164.0,470.40V469.63H164.8V470.40ZM166.4,470.40V469.56H167.2V470.40ZM168.0,470.40V469.81H168.8V470.40ZM169.6,470.40V469.86H170.4V470.40ZM171.2,470.40V469.54H172.0V469.71H172.8V470.40ZM173.6,470.40V469.76H174.4V470.40ZM176.8,470.40V469.80H177.6V469.83H178.4V470.40ZM180.8,470.40V469.84H181.6V470.40ZM183.2,470.40V469.67H184.0V469.84H184.8V470.40ZM185.6,470.40V469.79H186.4V469.89H187.2V470.40ZM188.8,470.40V469.80H189.6V469.81H190.4V470.40ZM192.0,470.40V469.74H192.8V469.69H193.6V470.40ZM194.4,470.40V469.55H195.2V470.40ZM196.0,470.40V469.71H196.8V469.77H197.6V469.75H198.4V470.40ZM199.2,470.40V469.77H200.0V470.40ZM201.6,470.40V469.91H202.4V470.40ZM204.0,470.40V469.61H204.8V470.40ZM205.6,470.40V469.57H206.4V470.40ZM207.2,470.40V469.77H208.0V470.40ZM209.6,470.40V469.78H210.4V470.40ZM211.2,470.40V469.96H212.0V469.82H212.8V469.83H213.6V469.66H214.4V470.40ZM215.2,470.40V469.70H216.0V470.40ZM223.2,470.40V469.58H224.0V469.64H224.8V470.40ZM225.6,470.40V469.79H226.4V470.40ZM230.4,470.40V469.63H231.2V469.79H232.0V469.67H232.8V469.75H233.6V470.40ZM234.4,470.40V469.58H235.2V470.40ZM236.0,470.40V469.74H236.8V470.40ZM237.6,470.40V469.75H238.4V469.84H239.2V470.40ZM240.0,470.40V469.58H240.8V469.78H241.6V469.94H242.4V470.40ZM243.2,470.40V469.58H244.0V470.40ZM245.6,470.40V469.90H246.4V469.68H247.2V470.40ZM251.2,470.40V469.76H252.0V469.67H252.8V469.66H253.6V470.40ZM256.8,470.40V469.55H257.6V469.63H258.4V470.40ZM262.4,470.40V469.67H263.2V470.40ZM264.8,470.40V469.78H265.6V469.70H266.4V469.78H267.2V469.44H268.0V469.81H268.8V469.90H269.6V469.91H270.4V470.40ZM272.8,470.40V469.85H273.6V470.40ZM274.4,470.40V469.65H275.2V470.40ZM276.0,470.40V469.67H276.8V469.53H277.6V470.40ZM280.0,470.40V469.63H280.8V469.57H281.6V470.40ZM283.2,470.40V469.87H284.0V470.40ZM284.8,470.40V469.57H285.6V470.40ZM286.4,470.40V469.65H287.2V469.74H288.0V470.40ZM289.6,470.40V469.65H290.4V469.81H291.2V469.77H292.0V470.40ZM294.4,470.40V469.84H295.2V469.71H296.0V470.40ZM296.8,470.40V469.59H297.6V470.40ZM304.0,470.40V469.72H304.8V470.40ZM308.8,470.40V469.76H309.6V470.40ZM314.4,470.40V469.61H315.2V470.40ZM316.0,470.40V469.70H316.8V469.74H317.6V470.40ZM318.4,470.40V469.83H319.2V470.40ZM320.8,470.40V469.76H321.6V469.60H322.4V469.69H323.2V469.76H324.0V470.40ZM324.8,470.40V469.69H325.6V469.63H326.4V469.45H327.2V469.58H328.0V470.40ZM328.8,470.40V469.72H329.6V469.72H330.4V469.73H331.2V470.40ZM332.0,470.40V469.80H332.8V469.66H333.6V470.40ZM335.2,470.40V469.70H336.0V470.40ZM336.8,470.40V469.72H337.6V469.69H338.4V469.53H339.2V470.40ZM340.0,470.40V469.60H340.8V470.40ZM342.4,470.40V469.86H343.2V470.40ZM348.8,470.40V469.73H349.6V469.68H350.4V469.79H351.2V470.40ZM352.0,470.40V469.84H352.8V469.74H353.6V470.40ZM355.2,470.40V469.54H356.0V469.56H356.8V470.40ZM358.4,470.40V469.88H359.2V470.40ZM360.0,470.40V469.86H360.8V469.84H361.6V470.40ZM363.2,470.40V469.85H364.0V469.62H364.8V470.40ZM365.6,470.40V469.78H366.4V470.40ZM367.2,470.40V469.62H368.0V469.82H368.8V469.73H369.6V470.40ZM370.4,470.40V469.57H371.2V470.40ZM373.6,470.40V469.71H374.4V470.40ZM376.0,470.40V469.67H376.8V470.40ZM378.4,470.40V469.72H379.2V469.90H380.0V469.80H380.8V470.40ZM383.2,470.40V469.75H384.0V470.40ZM390.4,470.40V469.83H391.2V470.40ZM395.2,470.40V469.94H396.0V469.75H396.8V470.40ZM402.4,470.40V469.61H403.2V469.45H404.0V470.40ZM405.6,470.40V469.68H406.4V469.59H407.2V470.40ZM409.6,470.40V469.69H410.4V469.74H411.2V469.81H412.0V469.74H412.8V469.76H413.6V469.66H414.4V470.40ZM415.2,470.40V469.50H416.0V469.60H416.8V470.40ZM420.0,470.40V469.71H420.8V469.47H421.6V470.40ZM422.4,470.40V469.59H423.2V469.73H424.0V469.59H424.8V470.40ZM426.4,470.40V469.59H427.2V469.51H428.0V470.40ZM429.6,470.40V469.84H430.4V470.40ZM431.2,470.40V469.85H432.0V469.77H432.8V469.54H433.6V470.40ZM436.8,470.40V469.69H437.6V470.40ZM440.0,470.40V469.52H440.8V469.86H441.6V469.98H442.4V470.40ZM443.2,470.40V469.52H444.0V470.40ZM446.4,470.40V469.70H447.2V470.40ZM448.8,470.40V469.69H449.6V470.40ZM452.0,470.40V469.67H452.8V470.40ZM455.2,470.40V469.70H456.0V470.40ZM457.6,470.40V469.89H458.4V470.40ZM459.2,470.40V469.46H460.0V470.40ZM461.6,470.40V469.84H462.4V469.67H463.2V469.53H464.0V470.40ZM464.8,470.40V469.71H465.6V469.86H466.4V469.81H467.2V469.74H468.0V470.40ZM468.8,470.40V469.84H469.6V470.40ZM473.6,470.40V469.98H474.4V469.75H475.2V470.40ZM478.4,470.40V469.41H479.2V469.44H480.0V469.66H480.8V470.40ZM482.4,470.40V469.64H483.2V469.71H484.0V470.40ZM486.4,470.40V469.93H487.2V470.40ZM488.8,470.40V469.71H489.6V470.40ZM492.8,470.40V469.57H493.6V470.40ZM494.4,470.40V469.73H495.2V470.40ZM496.8,470.40V469.64H497.6V470.40ZM499.2,470.40V469.83H500.0V469.80H500.8V470.40ZM504.0,470.40V469.48H504.8V469.80H505.6V470.40ZM506.4,470.40V469.70H507.2V469.80H508.0V470.40ZM508.8,470.40V469.59H509.6V470.40ZM511.2,470.40V469.72H512.0V469.84H512.8V469.69H513.6V470.40Z" fill="#e0906a" stroke="none" stroke-width="1" fill-opacity="0.45"/>
<path d="M85.7,470.40h0.8v-0.84h-0.8zM94.8,470.40h0.8v-1.05h-0.8zM105.2,470.40h0.8v-0.84h-0.8zM133.8,470.40h0.8v-0.97h-0.8zM150.7,470.40h0.8v-1.27h-0.8zM171.5,470.40h0.8v-1.04h-0.8zM172.8,470.40h0.8v-1.26h-0.8zM175.4,470.40h0.8v-1.08h-0.8zM180.6,470.40h0.8v-1.21h-0.8zM202.7,470.40h0.8v-0.84h-0.8zM209.2,470.40h0.8v-0.86h-0.8zM214.4,470.40h0.8v-1.13h-0.8zM227.4,470.40h0.8v-0.88h-0.8zM232.6,470.40h0.8v-0.98h-0.8zM250.8,470.40h0.8v-1.43h-0.8zM265.1,470.40h0.8v-1.32h-0.8zM266.4,470.40h0.8v-1.13h-0.8zM267.7,470.40h0.8v-1.22h-0.8zM278.1,470.40h0.8v-0.91h-0.8zM291.1,470.40h0.8v-1.24h-0.8zM292.4,470.40h0.8v-1.45h-0.8zM341.8,470.40h0.8v-1.43h-0.8zM363.9,470.40h0.8v-1.08h-0.8zM371.7,470.40h0.8v-1.20h-0.8zM392.5,470.40h0.8v-1.05h-0.8zM397.7,470.40h0.8v-1.21h-0.8zM406.8,470.40h0.8v-0.84h-0.8zM449.7,470.40h0.8v-1.22h-0.8zM454.9,470.40h0.8v-0.88h-0.8zM465.3,470.40h0.8v-0.82h-0.8zM500.4,470.40h0.8v-1.21h-0.8zM501.7,470.40h0.8v-1.35h-0.8z" fill="#e9531d" stroke="none" stroke-width="1" fill-opacity="0.7"/>
<path d="M502.2,470.5 L503.6,468.6 L504.2,463.0 L504.9,463.0 L505.5,468.6 L506.9,470.5 Z" fill="#e9531d" stroke="none" stroke-width="1" />
<path d="M235.2,470.5 L236.9,466.8 L238.6,470.5 Z" fill="#e9531d" stroke="none" stroke-width="1" />
<path d="M252.3,470.5 L253.5,468.4 L254.7,470.5 Z" fill="#e9531d" stroke="none" stroke-width="1" />
<path d="M267.5,470.5 L268.5,468.8 L269.5,470.5 Z" fill="#e9531d" stroke="none" stroke-width="1" />
<path d="M89.8,470.5 L90.8,468.9 L91.8,470.5 Z" fill="#e9531d" stroke="none" stroke-width="1" />
<path d="M142.0,470.5 L143.0,468.9 L144.0,470.5 Z" fill="#e9531d" stroke="none" stroke-width="1" />
<path d="M80.8,480.80V480.11H81.6V480.80ZM83.2,480.80V480.20H84.0V480.80ZM88.0,480.80V480.23H88.8V480.14H89.6V480.80ZM91.2,480.80V480.28H92.0V480.19H92.8V480.80ZM98.4,480.80V480.21H99.2V480.80ZM100.0,480.80V480.11H100.8V480.80ZM107.2,480.80V480.32H108.0V480.32H108.8V480.80ZM114.4,480.80V480.25H115.2V480.39H116.0V480.80ZM122.4,480.80V480.18H123.2V480.80ZM125.6,480.80V480.13H126.4V480.80ZM128.8,480.80V480.20H129.6V480.80ZM130.4,480.80V480.16H131.2V480.80ZM139.2,480.80V480.16H140.0V480.80ZM141.6,480.80V480.28H142.4V480.80ZM145.6,480.80V480.20H146.4V480.80ZM151.2,480.80V480.11H152.0V480.80ZM156.8,480.80V480.32H157.6V480.80ZM160.0,480.80V480.17H160.8V480.80ZM162.4,480.80V480.41H163.2V480.80ZM166.4,480.80V480.12H167.2V480.12H168.0V480.21H168.8V480.23H169.6V480.07H170.4V480.16H171.2V480.09H172.0V480.80ZM174.4,480.80V480.14H175.2V480.80ZM176.8,480.80V480.15H177.6V480.80ZM178.4,480.80V480.02H179.2V480.80ZM180.8,480.80V480.31H181.6V480.36H182.4V480.80ZM183.2,480.80V480.26H184.0V480.80ZM187.2,480.80V480.43H188.0V480.80ZM188.8,480.80V480.23H189.6V480.80ZM191.2,480.80V480.22H192.0V480.80ZM196.0,480.80V480.13H196.8V480.80ZM197.6,480.80V480.30H198.4V480.80ZM203.2,480.80V480.23H204.0V480.80ZM206.4,480.80V480.05H207.2V480.80ZM209.6,480.80V480.07H210.4V480.22H211.2V480.80ZM214.4,480.80V480.15H215.2V480.20H216.0V480.30H216.8V480.80ZM221.6,480.80V480.09H222.4V480.26H223.2V480.80ZM224.8,480.80V480.29H225.6V480.80ZM228.0,480.80V480.15H228.8V480.80ZM229.6,480.80V480.30H230.4V480.80ZM232.0,480.80V480.28H232.8V480.31H233.6V480.80ZM235.2,480.80V480.02H236.0V480.80ZM239.2,480.80V480.18H240.0V480.80ZM242.4,480.80V480.18H243.2V480.23H244.0V480.80ZM244.8,480.80V480.08H245.6V480.80ZM246.4,480.80V480.00H247.2V480.80ZM248.8,480.80V480.19H249.6V480.35H250.4V480.80ZM253.6,480.80V480.33H254.4V480.80ZM255.2,480.80V480.23H256.0V480.80ZM256.8,480.80V480.24H257.6V480.80ZM258.4,480.80V480.09H259.2V480.80ZM263.2,480.80V480.20H264.0V480.80ZM264.8,480.80V479.95H265.6V480.80ZM268.0,480.80V480.12H268.8V480.15H269.6V480.06H270.4V480.80ZM274.4,480.80V480.10H275.2V480.80ZM276.0,480.80V480.13H276.8V480.80ZM280.0,480.80V480.32H280.8V480.11H281.6V480.80ZM288.8,480.80V480.24H289.6V480.80ZM292.0,480.80V479.99H292.8V480.80ZM293.6,480.80V480.02H294.4V480.80ZM297.6,480.80V480.17H298.4V480.80ZM300.0,480.80V480.20H300.8V480.21H301.6V480.25H302.4V480.80ZM304.0,480.80V480.18H304.8V480.80ZM306.4,480.80V480.03H307.2V480.80ZM313.6,480.80V480.13H314.4V480.80ZM317.6,480.80V480.06H318.4V480.00H319.2V480.80ZM324.8,480.80V480.11H325.6V480.80ZM327.2,480.80V480.12H328.0V480.29H328.8V480.80ZM330.4,480.80V480.16H331.2V480.80ZM332.0,480.80V480.33H332.8V480.80ZM334.4,480.80V480.12H335.2V480.19H336.0V480.80ZM338.4,480.80V480.22H339.2V480.80ZM340.0,480.80V480.14H340.8V480.37H341.6V480.21H342.4V480.80ZM344.8,480.80V480.21H345.6V480.80ZM350.4,480.80V480.23H351.2V480.80ZM353.6,480.80V480.28H354.4V480.31H355.2V480.80ZM357.6,480.80V480.17H358.4V480.32H359.2V480.26H360.0V480.80ZM361.6,480.80V480.08H362.4V480.80ZM363.2,480.80V480.25H364.0V480.80ZM364.8,480.80V480.08H365.6V480.80ZM380.8,480.80V480.37H381.6V480.80ZM383.2,480.80V480.21H384.0V480.80ZM386.4,480.80V480.22H387.2V480.34H388.0V480.29H388.8V480.80ZM393.6,480.80V480.17H394.4V480.80ZM396.0,480.80V480.06H396.8V480.80ZM400.8,480.80V480.25H401.6V480.80ZM402.4,480.80V480.16H403.2V480.80ZM404.0,480.80V480.05H404.8V480.22H405.6V480.80ZM407.2,480.80V480.28H408.0V480.80ZM412.0,480.80V480.26H412.8V480.80ZM416.8,480.80V480.17H417.6V480.80ZM418.4,480.80V480.11H419.2V480.07H420.0V480.80ZM421.6,480.80V480.13H422.4V480.80ZM423.2,480.80V480.19H424.0V480.80ZM424.8,480.80V480.33H425.6V480.80ZM426.4,480.80V480.16H427.2V480.17H428.0V480.80ZM432.8,480.80V480.24H433.6V480.80ZM434.4,480.80V480.26H435.2V480.80ZM436.0,480.80V480.17H436.8V480.02H437.6V480.80ZM438.4,480.80V480.31H439.2V480.80ZM442.4,480.80V480.15H443.2V480.80ZM444.8,480.80V480.17H445.6V480.80ZM447.2,480.80V480.18H448.0V480.80ZM452.0,480.80V480.08H452.8V480.29H453.6V480.80ZM455.2,480.80V480.18H456.0V480.80ZM464.8,480.80V480.23H465.6V480.14H466.4V480.80ZM467.2,480.80V480.31H468.0V480.80ZM471.2,480.80V480.32H472.0V480.80ZM475.2,480.80V480.26H476.0V480.80ZM491.2,480.80V480.16H492.0V480.80ZM496.8,480.80V480.15H497.6V480.25H498.4V480.20H499.2V480.80ZM500.0,480.80V480.31H500.8V480.80ZM502.4,480.80V480.14H503.2V480.80ZM504.8,480.80V480.16H505.6V480.80ZM507.2,480.80V480.13H508.0V480.80ZM508.8,480.80V480.08H509.6V480.80ZM511.2,480.80V480.33H512.0V480.80Z" fill="#e0906a" stroke="none" stroke-width="1" fill-opacity="0.4"/>
<path d="M81.8,480.80h0.8v-0.95h-0.8zM87.0,480.80h0.8v-1.20h-0.8zM90.9,480.80h0.8v-0.82h-0.8zM100.0,480.80h0.8v-1.24h-0.8zM129.9,480.80h0.8v-1.08h-0.8zM155.9,480.80h0.8v-1.29h-0.8zM166.3,480.80h0.8v-1.19h-0.8zM179.3,480.80h0.8v-0.82h-0.8zM210.5,480.80h0.8v-0.84h-0.8zM269.0,480.80h0.8v-1.26h-0.8zM284.6,480.80h0.8v-0.87h-0.8zM302.8,480.80h0.8v-0.98h-0.8zM305.4,480.80h0.8v-1.14h-0.8zM317.1,480.80h0.8v-0.96h-0.8zM318.4,480.80h0.8v-0.92h-0.8zM331.4,480.80h0.8v-1.34h-0.8zM365.2,480.80h0.8v-1.03h-0.8zM370.4,480.80h0.8v-1.16h-0.8zM391.2,480.80h0.8v-1.37h-0.8zM405.5,480.80h0.8v-0.82h-0.8zM406.8,480.80h0.8v-1.10h-0.8zM422.4,480.80h0.8v-1.13h-0.8zM425.0,480.80h0.8v-1.22h-0.8zM435.4,480.80h0.8v-1.19h-0.8zM461.4,480.80h0.8v-1.15h-0.8zM465.3,480.80h0.8v-1.02h-0.8zM471.8,480.80h0.8v-1.03h-0.8zM480.9,480.80h0.8v-0.92h-0.8zM491.3,480.80h0.8v-1.18h-0.8zM500.4,480.80h0.8v-1.10h-0.8z" fill="#e9531d" stroke="none" stroke-width="1" fill-opacity="0.7"/>
<path d="M502.8,480.9 L503.9,479.4 L504.3,476.0 L504.9,476.0 L505.3,479.4 L506.4,480.9 Z" fill="#e9531d" stroke="none" stroke-width="1" />
<path d="M89.6,480.9 L90.8,478.6 L92.0,480.9 Z" fill="#e9531d" stroke="none" stroke-width="1" />
<path d="M235.4,480.9 L236.6,478.6 L237.8,480.9 Z" fill="#e9531d" stroke="none" stroke-width="1" />
<path d="M252.2,480.9 L253.2,479.0 L254.2,480.9 Z" fill="#e9531d" stroke="none" stroke-width="1" />
<line x1="5.50" y1="482.70" x2="514.00" y2="482.70" stroke="#666" stroke-width="1.5" />
<line x1="74.50" y1="483.00" x2="74.50" y2="553.00" stroke="#777" stroke-width="0.9" />
<line x1="77.50" y1="483.00" x2="77.50" y2="553.00" stroke="#777" stroke-width="0.9" />
<line x1="80.00" y1="486.30" x2="513.50" y2="486.30" stroke="#a8a6d6" stroke-width="0.7" />
<circle cx="86.70" cy="486.30" r="0.55" fill="#4a4a9e" stroke="none" stroke-width="1"/>
<circle cx="94.40" cy="486.30" r="0.55" fill="#4a4a9e" stroke="none" stroke-width="1"/>
<circle cx="102.10" cy="486.30" r="0.55" fill="#4a4a9e" stroke="none" stroke-width="1"/>
<circle cx="109.80" cy="486.30" r="0.55" fill="#4a4a9e" stroke="none" stroke-width="1"/>
<circle cx="117.50" cy="486.30" r="0.55" fill="#4a4a9e" stroke="none" stroke-width="1"/>
<circle cx="125.20" cy="486.30" r="0.55" fill="#4a4a9e" stroke="none" stroke-width="1"/>
<circle cx="132.90" cy="486.30" r="0.55" fill="#4a4a9e" stroke="none" stroke-width="1"/>
<circle cx="140.60" cy="486.30" r="0.55" fill="#4a4a9e" stroke="none" stroke-width="1"/>
<circle cx="148.30" cy="486.30" r="0.55" fill="#4a4a9e" stroke="none" stroke-width="1"/>
<circle cx="156.00" cy="486.30" r="0.55" fill="#4a4a9e" stroke="none" stroke-width="1"/>
<circle cx="163.70" cy="486.30" r="0.55" fill="#4a4a9e" stroke="none" stroke-width="1"/>
<circle cx="171.40" cy="486.30" r="0.55" fill="#4a4a9e" stroke="none" stroke-width="1"/>
<circle cx="179.10" cy="486.30" r="0.55" fill="#4a4a9e" stroke="none" stroke-width="1"/>
<circle cx="186.80" cy="486.30" r="0.55" fill="#4a4a9e" stroke="none" stroke-width="1"/>
<circle cx="194.50" cy="486.30" r="0.55" fill="#4a4a9e" stroke="none" stroke-width="1"/>
<circle cx="202.20" cy="486.30" r="0.55" fill="#4a4a9e" stroke="none" stroke-width="1"/>
<circle cx="209.90" cy="486.30" r="0.55" fill="#4a4a9e" stroke="none" stroke-width="1"/>
<circle cx="217.60" cy="486.30" r="0.55" fill="#4a4a9e" stroke="none" stroke-width="1"/>
<circle cx="225.30" cy="486.30" r="0.55" fill="#4a4a9e" stroke="none" stroke-width="1"/>
<circle cx="233.00" cy="486.30" r="0.55" fill="#4a4a9e" stroke="none" stroke-width="1"/>
<circle cx="240.70" cy="486.30" r="0.55" fill="#4a4a9e" stroke="none" stroke-width="1"/>
<circle cx="248.40" cy="486.30" r="0.55" fill="#4a4a9e" stroke="none" stroke-width="1"/>
<circle cx="256.10" cy="486.30" r="0.55" fill="#4a4a9e" stroke="none" stroke-width="1"/>
<circle cx="263.80" cy="486.30" r="0.55" fill="#4a4a9e" stroke="none" stroke-width="1"/>
<circle cx="271.50" cy="486.30" r="0.55" fill="#4a4a9e" stroke="none" stroke-width="1"/>
<circle cx="279.20" cy="486.30" r="0.55" fill="#4a4a9e" stroke="none" stroke-width="1"/>
<circle cx="286.90" cy="486.30" r="0.55" fill="#4a4a9e" stroke="none" stroke-width="1"/>
<circle cx="294.60" cy="486.30" r="0.55" fill="#4a4a9e" stroke="none" stroke-width="1"/>
<circle cx="302.30" cy="486.30" r="0.55" fill="#4a4a9e" stroke="none" stroke-width="1"/>
<circle cx="310.00" cy="486.30" r="0.55" fill="#4a4a9e" stroke="none" stroke-width="1"/>
<circle cx="317.70" cy="486.30" r="0.55" fill="#4a4a9e" stroke="none" stroke-width="1"/>
<circle cx="325.40" cy="486.30" r="0.55" fill="#4a4a9e" stroke="none" stroke-width="1"/>
<circle cx="333.10" cy="486.30" r="0.55" fill="#4a4a9e" stroke="none" stroke-width="1"/>
<circle cx="340.80" cy="486.30" r="0.55" fill="#4a4a9e" stroke="none" stroke-width="1"/>
<circle cx="348.50" cy="486.30" r="0.55" fill="#4a4a9e" stroke="none" stroke-width="1"/>
<circle cx="356.20" cy="486.30" r="0.55" fill="#4a4a9e" stroke="none" stroke-width="1"/>
<circle cx="363.90" cy="486.30" r="0.55" fill="#4a4a9e" stroke="none" stroke-width="1"/>
<circle cx="371.60" cy="486.30" r="0.55" fill="#4a4a9e" stroke="none" stroke-width="1"/>
<circle cx="379.30" cy="486.30" r="0.55" fill="#4a4a9e" stroke="none" stroke-width="1"/>
<circle cx="387.00" cy="486.30" r="0.55" fill="#4a4a9e" stroke="none" stroke-width="1"/>
<circle cx="394.70" cy="486.30" r="0.55" fill="#4a4a9e" stroke="none" stroke-width="1"/>
<circle cx="402.40" cy="486.30" r="0.55" fill="#4a4a9e" stroke="none" stroke-width="1"/>
<circle cx="410.10" cy="486.30" r="0.55" fill="#4a4a9e" stroke="none" stroke-width="1"/>
<circle cx="417.80" cy="486.30" r="0.55" fill="#4a4a9e" stroke="none" stroke-width="1"/>
<circle cx="425.50" cy="486.30" r="0.55" fill="#4a4a9e" stroke="none" stroke-width="1"/>
<circle cx="433.20" cy="486.30" r="0.55" fill="#4a4a9e" stroke="none" stroke-width="1"/>
<circle cx="440.90" cy="486.30" r="0.55" fill="#4a4a9e" stroke="none" stroke-width="1"/>
<circle cx="448.60" cy="486.30" r="0.55" fill="#4a4a9e" stroke="none" stroke-width="1"/>
<circle cx="456.30" cy="486.30" r="0.55" fill="#4a4a9e" stroke="none" stroke-width="1"/>
<circle cx="464.00" cy="486.30" r="0.55" fill="#4a4a9e" stroke="none" stroke-width="1"/>
<circle cx="471.70" cy="486.30" r="0.55" fill="#4a4a9e" stroke="none" stroke-width="1"/>
<circle cx="479.40" cy="486.30" r="0.55" fill="#4a4a9e" stroke="none" stroke-width="1"/>
<circle cx="487.10" cy="486.30" r="0.55" fill="#4a4a9e" stroke="none" stroke-width="1"/>
<circle cx="494.80" cy="486.30" r="0.55" fill="#4a4a9e" stroke="none" stroke-width="1"/>
<circle cx="502.50" cy="486.30" r="0.55" fill="#4a4a9e" stroke="none" stroke-width="1"/>
<circle cx="510.20" cy="486.30" r="0.55" fill="#4a4a9e" stroke="none" stroke-width="1"/>
<line x1="87.00" y1="486.30" x2="93.00" y2="486.30" stroke="#6a68b4" stroke-width="0.8" />
<line x1="95.00" y1="486.30" x2="100.00" y2="486.30" stroke="#6a68b4" stroke-width="0.8" />
<text x="278.20" y="491.10" font-size="7.6" fill="#303030" textLength="28.90" lengthAdjust="spacingAndGlyphs" >CCDC26</text>
<line x1="79.50" y1="493.50" x2="514.00" y2="493.50" stroke="#8c8c8c" stroke-width="0.9" />
<line x1="79.50" y1="503.60" x2="514.00" y2="503.60" stroke="#8c8c8c" stroke-width="0.9" />
<line x1="79.50" y1="513.70" x2="514.00" y2="513.70" stroke="#8c8c8c" stroke-width="0.9" />
<line x1="79.50" y1="523.90" x2="514.00" y2="523.90" stroke="#8c8c8c" stroke-width="0.9" />
<line x1="79.50" y1="533.80" x2="514.00" y2="533.80" stroke="#8c8c8c" stroke-width="0.9" />
<line x1="79.50" y1="544.00" x2="514.00" y2="544.00" stroke="#8c8c8c" stroke-width="0.9" />
<text x="13.80" y="498.40" font-size="7.5" fill="#303030" textLength="35.00" lengthAdjust="spacingAndGlyphs" >Significant</text>
<text x="13.80" y="507.50" font-size="7.5" fill="#303030" textLength="40.00" lengthAdjust="spacingAndGlyphs" >down peaks</text>
<line x1="8.30" y1="511.10" x2="55.00" y2="511.10" stroke="#555" stroke-width="1.1" />
<text x="13.80" y="519.70" font-size="7.5" fill="#303030" textLength="52.80" lengthAdjust="spacingAndGlyphs" >ChIP - H3K27Ac</text>
<text x="13.80" y="528.90" font-size="7.5" fill="#303030" textLength="39.20" lengthAdjust="spacingAndGlyphs" >ChIP - Brd4</text>
<text x="13.80" y="538.10" font-size="7.5" fill="#303030" textLength="39.50" lengthAdjust="spacingAndGlyphs" >ChIP - P300</text>
<text x="13.80" y="547.30" font-size="7.5" fill="#303030" textLength="33.60" lengthAdjust="spacingAndGlyphs" >ATAC-Seq</text>
<rect x="91.50" y="494.70" width="6.40" height="2.10" fill="#111" stroke="none" stroke-width="1" />
<text x="94.70" y="503.00" font-size="6.6" text-anchor="middle" fill="#303030" textLength="7.50" lengthAdjust="spacingAndGlyphs" >E1</text>
<rect x="125.60" y="494.70" width="14.20" height="2.10" fill="#111" stroke="none" stroke-width="1" />
<text x="132.70" y="503.00" font-size="6.6" text-anchor="middle" fill="#303030" textLength="7.50" lengthAdjust="spacingAndGlyphs" >E2</text>
<rect x="232.70" y="494.70" width="14.20" height="2.10" fill="#111" stroke="none" stroke-width="1" />
<text x="239.80" y="503.00" font-size="6.6" text-anchor="middle" fill="#303030" textLength="7.50" lengthAdjust="spacingAndGlyphs" >E3</text>
<rect x="263.30" y="494.70" width="13.40" height="2.10" fill="#111" stroke="none" stroke-width="1" />
<text x="270.00" y="503.00" font-size="6.6" text-anchor="middle" fill="#303030" textLength="7.50" lengthAdjust="spacingAndGlyphs" >E4</text>
<rect x="497.20" y="494.70" width="11.40" height="2.10" fill="#111" stroke="none" stroke-width="1" />
<text x="502.90" y="503.00" font-size="6.6" text-anchor="middle" fill="#303030" textLength="7.50" lengthAdjust="spacingAndGlyphs" >E5</text>
<rect x="94.80" y="516.05" width="12.60" height="2.10" fill="#124682" stroke="none" stroke-width="1" rx="0.6"/>
<rect x="108.80" y="516.05" width="15.60" height="2.10" fill="#124682" stroke="none" stroke-width="1" rx="0.6"/>
<rect x="126.80" y="516.05" width="2.80" height="2.10" fill="#124682" stroke="none" stroke-width="1" rx="0.6"/>
<rect x="131.30" y="516.05" width="46.00" height="2.10" fill="#124682" stroke="none" stroke-width="1" rx="0.6"/>
<rect x="192.50" y="516.05" width="30.30" height="2.10" fill="#124682" stroke="none" stroke-width="1" rx="0.6"/>
<rect x="225.20" y="516.05" width="62.20" height="2.10" fill="#124682" stroke="none" stroke-width="1" rx="0.6"/>
<rect x="289.70" y="516.05" width="2.50" height="2.10" fill="#124682" stroke="none" stroke-width="1" rx="0.6"/>
<rect x="313.90" y="516.05" width="13.80" height="2.10" fill="#124682" stroke="none" stroke-width="1" rx="0.6"/>
<rect x="331.40" y="516.05" width="16.80" height="2.10" fill="#124682" stroke="none" stroke-width="1" rx="0.6"/>
<rect x="379.30" y="516.05" width="32.40" height="2.10" fill="#124682" stroke="none" stroke-width="1" rx="0.6"/>
<rect x="413.90" y="516.05" width="13.90" height="2.10" fill="#124682" stroke="none" stroke-width="1" rx="0.6"/>
<rect x="448.60" y="516.05" width="55.40" height="2.10" fill="#124682" stroke="none" stroke-width="1" rx="0.6"/>
<rect x="504.90" y="516.05" width="8.30" height="2.10" fill="#124682" stroke="none" stroke-width="1" rx="0.6"/>
<rect x="79.70" y="526.05" width="3.50" height="2.10" fill="#124682" stroke="none" stroke-width="1" rx="0.6"/>
<rect x="88.70" y="526.05" width="76.20" height="2.10" fill="#124682" stroke="none" stroke-width="1" rx="0.6"/>
<rect x="232.70" y="526.05" width="51.20" height="2.10" fill="#124682" stroke="none" stroke-width="1" rx="0.6"/>
<rect x="425.20" y="526.05" width="3.50" height="2.10" fill="#124682" stroke="none" stroke-width="1" rx="0.6"/>
<rect x="485.50" y="526.05" width="27.70" height="2.10" fill="#124682" stroke="none" stroke-width="1" rx="0.6"/>
<rect x="130.80" y="536.15" width="4.00" height="2.10" fill="#124682" stroke="none" stroke-width="1" rx="0.6"/>
<rect x="235.30" y="536.15" width="4.00" height="2.10" fill="#124682" stroke="none" stroke-width="1" rx="0.6"/>
<rect x="235.30" y="546.35" width="4.70" height="2.10" fill="#124682" stroke="none" stroke-width="1" rx="0.6"/>
<rect x="266.10" y="546.35" width="5.70" height="2.10" fill="#124682" stroke="none" stroke-width="1" rx="0.6"/>
<rect x="502.70" y="546.35" width="4.40" height="2.10" fill="#124682" stroke="none" stroke-width="1" rx="0.6"/>
</svg></body></html>
